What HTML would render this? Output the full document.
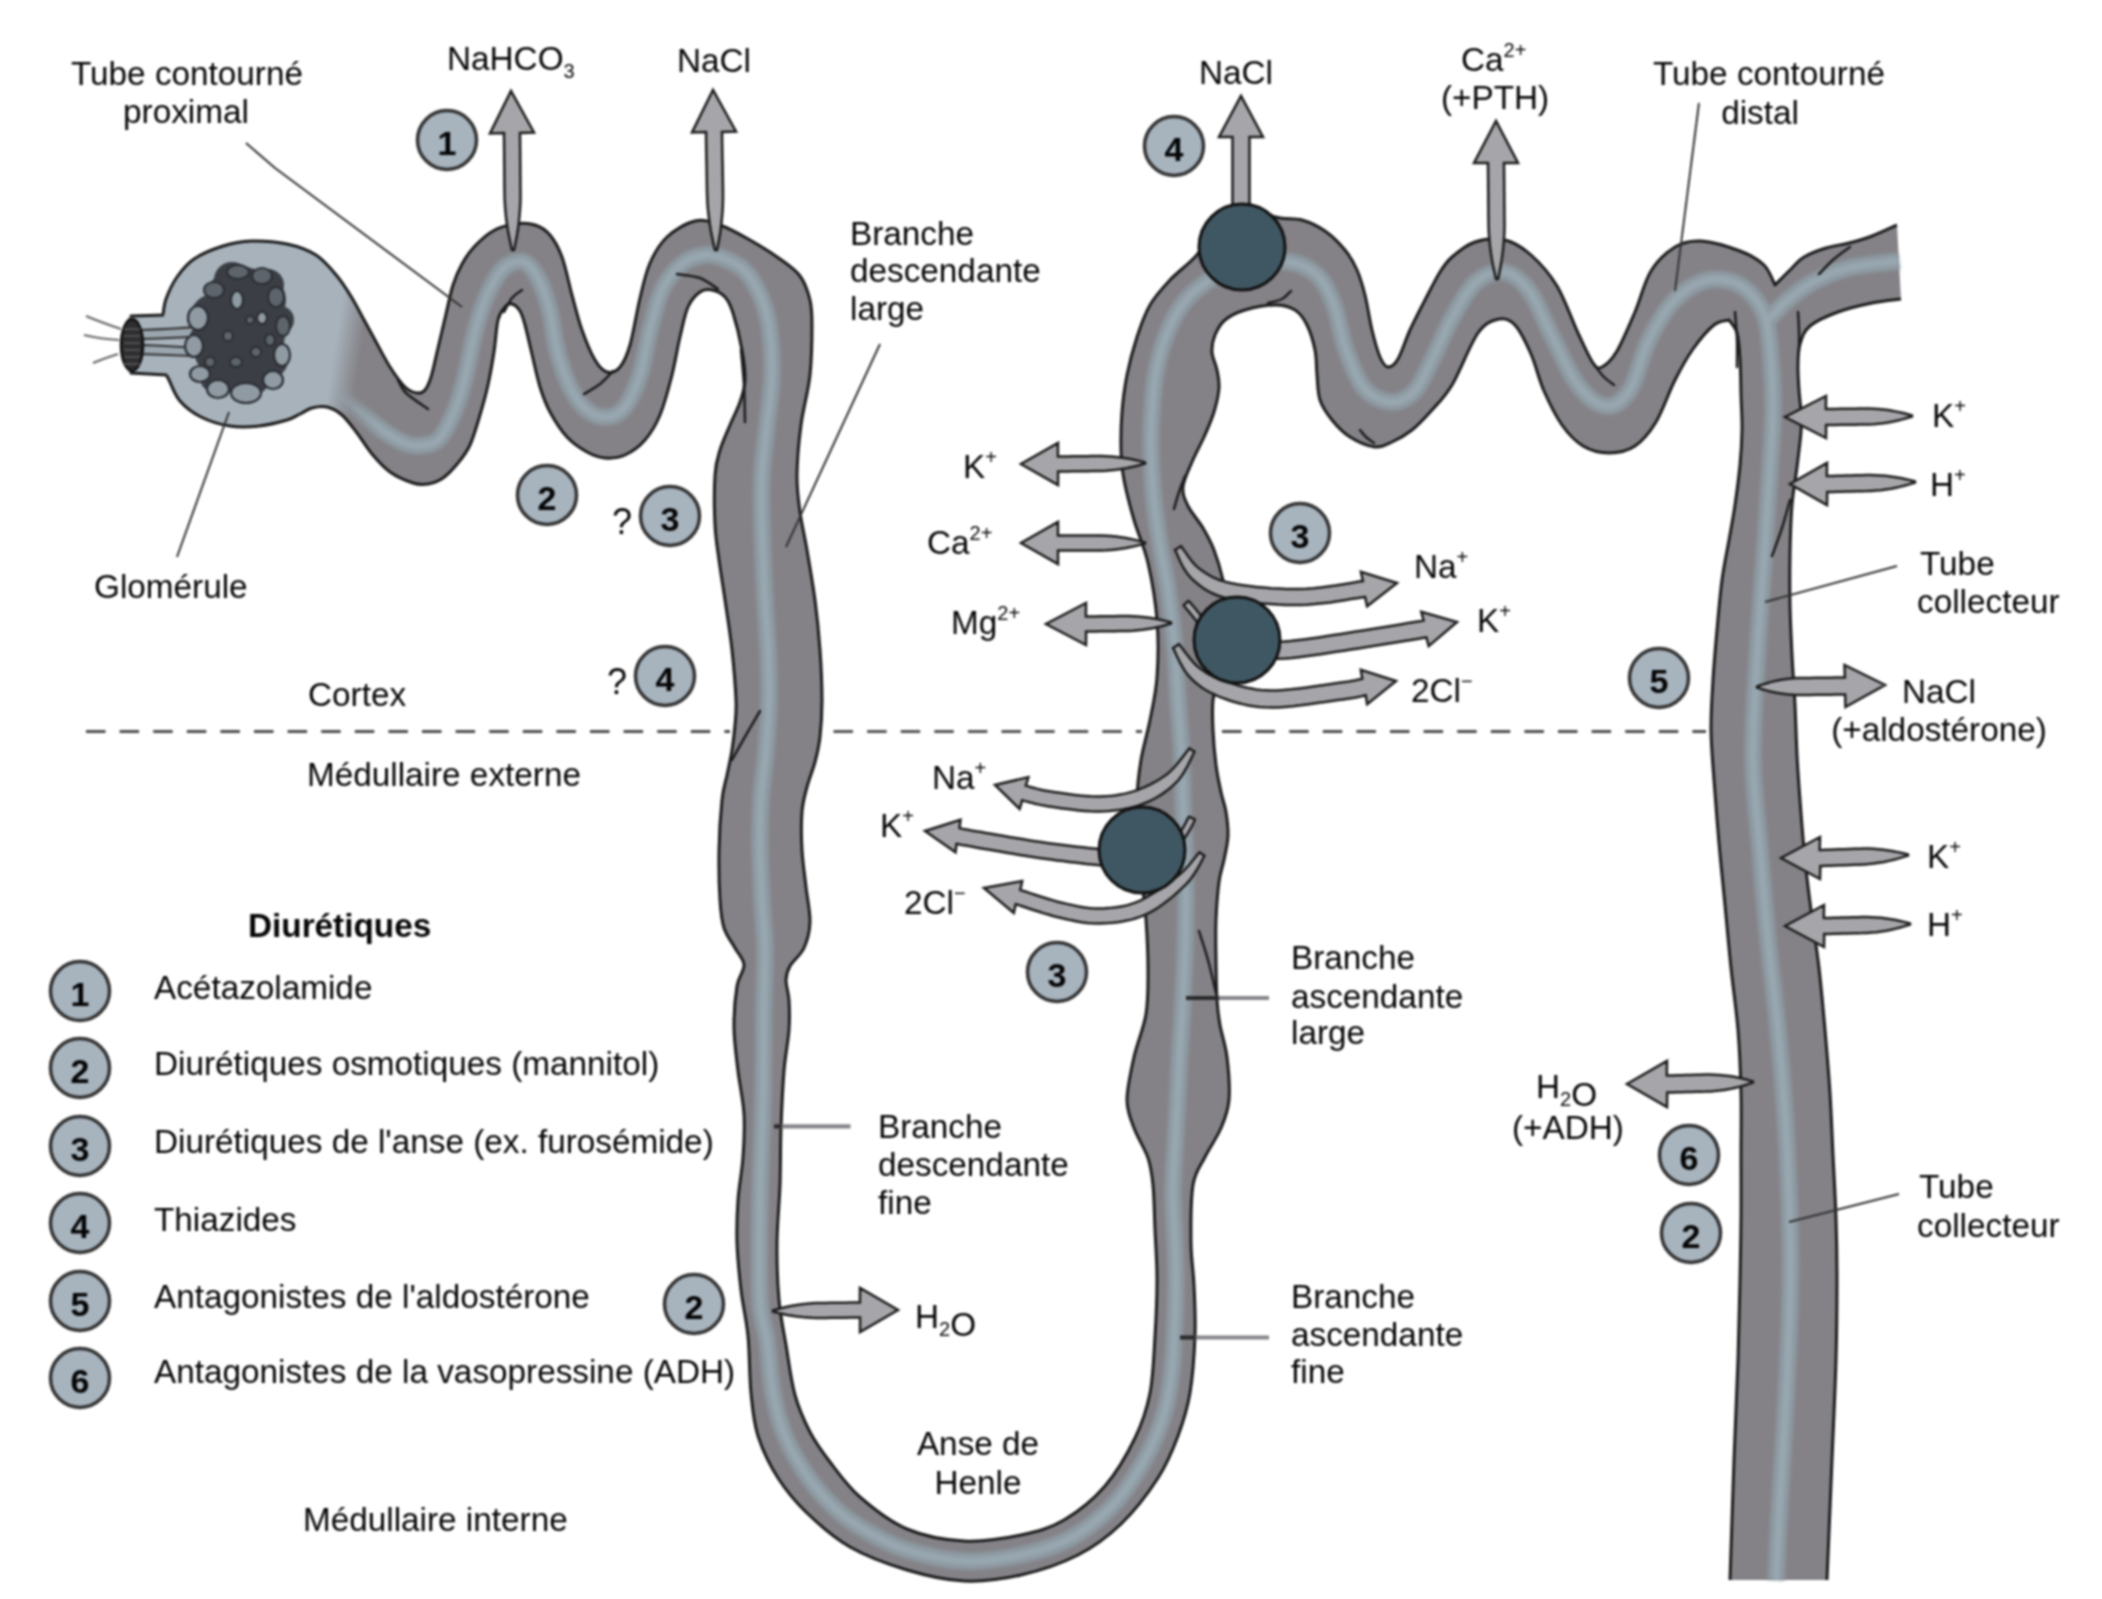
<!DOCTYPE html>
<html><head><meta charset="utf-8"><title>Nephron diuretics</title>
<style>
html,body{margin:0;padding:0;background:#fff;}
body{width:2102px;height:1599px;overflow:hidden;}
svg{display:block;filter:blur(0.8px);font-family:"Liberation Sans",sans-serif;fill:#050505;}
svg text{fill:#050505;}
</style></head><body>
<svg width="2102" height="1599" viewBox="0 0 2102 1599">
<defs><linearGradient id="tg" gradientUnits="userSpaceOnUse" x1="336" y1="340" x2="362" y2="344"><stop offset="0" stop-color="#a7b2bb"/><stop offset="1" stop-color="#848287"/></linearGradient><linearGradient id="bg" gradientUnits="userSpaceOnUse" x1="330" y1="0" x2="380" y2="0"><stop offset="0" stop-color="#8d9aa2" stop-opacity="0"/><stop offset="1" stop-color="#8d9aa2"/></linearGradient><linearGradient id="bg2" gradientUnits="userSpaceOnUse" x1="330" y1="0" x2="380" y2="0"><stop offset="0" stop-color="#98a7b0" stop-opacity="0"/><stop offset="1" stop-color="#98a7b0"/></linearGradient><filter id="soft" x="-5%" y="-5%" width="110%" height="110%"><feGaussianBlur stdDeviation="1.6"/></filter></defs>
<rect width="2102" height="1599" fill="#ffffff"/>
<path d="M86 731.5 H730" stroke="#4d4d4d" stroke-width="3.2" stroke-dasharray="19.5 14.1" fill="none"/>
<path d="M833.5 731.5 H1142" stroke="#555" stroke-width="3.2" stroke-dasharray="19.5 14.1" fill="none"/>
<path d="M1222 731.5 H1706" stroke="#4d4d4d" stroke-width="3.2" stroke-dasharray="19.5 14.1" fill="none"/>
<path d="M163 315 C163.5 312.3 163.7 305.3 166 299 C168.3 292.7 172.3 283.7 177 277 C181.7 270.3 186.3 264.2 194 259 C201.7 253.8 213.5 249 223 246 C232.5 243 240.3 241.3 251 241 C261.7 240.7 276.2 241.7 287 244 C297.8 246.3 307.7 249.7 316 255 C324.3 260.3 331 268.8 337 276 C343 283.2 347.7 291 352 298 C356.3 305 359.2 311 363 318 C366.8 325 370.5 331.8 375 340 C379.5 348.2 385 359.2 390 367 C395 374.8 400.5 382.7 405 387 C409.5 391.3 413.7 392.5 417 393 C420.3 393.5 422.7 392.7 425 390 C427.3 387.3 428.8 384 431 377 C433.2 370 435.5 358.5 438 348 C440.5 337.5 443.5 324.5 446 314 C448.5 303.5 450.3 293.3 453 285 C455.7 276.7 458.5 270.3 462 264 C465.5 257.7 468.8 252.5 474 247 C479.2 241.5 486.2 234.8 493 231 C499.8 227.2 508 225 515 224 C522 223 529.2 223.2 535 225 C540.8 226.8 545.5 229.7 550 235 C554.5 240.3 558.3 247 562 257 C565.7 267 568.7 282.8 572 295 C575.3 307.2 578.2 319.2 582 330 C585.8 340.8 590.8 353 595 360 C599.2 367 602.8 370.8 607 372 C611.2 373.2 616.2 371.5 620 367 C623.8 362.5 626.7 356.5 630 345 C633.3 333.5 636.7 311.7 640 298 C643.3 284.3 645.5 273.2 650 263 C654.5 252.8 659.5 244 667 237 C674.5 230 686.2 223 695 221 C703.8 219 710.8 221.8 720 225 C729.2 228.2 740 234.3 750 240 C760 245.7 771.7 253 780 259 C788.3 265 795 269.2 800 276 C805 282.8 808 291.8 810 300 C812 308.2 812 312.5 812 325 C812 337.5 811.8 358.3 810 375 C808.2 391.7 803.2 408.3 801 425 C798.8 441.7 797.2 460.5 797 475 C796.8 489.5 798.3 499.5 800 512 C801.7 524.5 804.5 535.3 807 550 C809.5 564.7 812.8 583.3 815 600 C817.2 616.7 818.8 633.3 820 650 C821.2 666.7 822 685.5 822 700 C822 714.5 821.2 726.7 820 737 C818.8 747.3 817.2 753.7 815 762 C812.8 770.3 809.2 778.7 807 787 C804.8 795.3 802.8 801.5 802 812 C801.2 822.5 801.3 837.5 802 850 C802.7 862.5 804.7 875 806 887 C807.3 899 810.3 911.8 810 922 C809.7 932.2 807.3 940.7 804 948 C800.7 955.3 793 960.7 790 966 C787 971.3 786.2 974.3 786 980 C785.8 985.7 788.5 991.7 789 1000 C789.5 1008.3 789.8 1018.2 789 1030 C788.2 1041.8 785.3 1054.7 784 1071 C782.7 1087.3 781.7 1109 781 1128 C780.3 1147 780.7 1165.8 780 1185 C779.3 1204.2 777.2 1223.8 777 1243 C776.8 1262.2 777.5 1283 779 1300 C780.5 1317 783.3 1329.2 786 1345 C788.7 1360.8 791 1380.5 795 1395 C799 1409.5 804.2 1420.8 810 1432 C815.8 1443.2 821.7 1451.2 830 1462 C838.3 1472.8 847.2 1485.8 860 1497 C872.8 1508.2 889.7 1521.7 907 1529 C924.3 1536.3 945 1540 964 1541 C983 1542 1004.3 1538.5 1021 1535 C1037.7 1531.5 1050 1528.2 1064 1520 C1078 1511.8 1093.2 1499.7 1105 1486 C1116.8 1472.3 1127.5 1453.5 1135 1438 C1142.5 1422.5 1146.7 1410 1150 1393 C1153.3 1376 1153.8 1355 1155 1336 C1156.2 1317 1157 1296.7 1157 1279 C1157 1261.3 1155.7 1245.7 1155 1230 C1154.3 1214.3 1154.2 1197 1153 1185 C1151.8 1173 1151.2 1167.5 1148 1158 C1144.8 1148.5 1137.5 1137.7 1134 1128 C1130.5 1118.3 1127 1111.8 1127 1100 C1127 1088.2 1130.8 1071.3 1134 1057 C1137.2 1042.7 1143.7 1028.5 1146 1014 C1148.3 999.5 1148 985.7 1148 970 C1148 954.3 1147.3 938.3 1146 920 C1144.7 901.7 1141.5 880 1140 860 C1138.5 840 1136.8 816.7 1137 800 C1137.2 783.3 1138.8 773.3 1141 760 C1143.2 746.7 1147.3 733.8 1150 720 C1152.7 706.2 1155.8 693.7 1157 677 C1158.2 660.3 1158.5 639 1157 620 C1155.5 601 1151.8 579.7 1148 563 C1144.2 546.3 1138 533.8 1134 520 C1130 506.2 1126.2 491.7 1124 480 C1121.8 468.3 1121.3 461.3 1121 450 C1120.7 438.7 1121 424.5 1122 412 C1123 399.5 1124.5 387.5 1127 375 C1129.5 362.5 1133.2 348.7 1137 337 C1140.8 325.3 1144.5 314.5 1150 305 C1155.5 295.5 1162.5 288 1170 280 C1177.5 272 1187.5 265 1195 257 C1202.5 249 1206.7 239.5 1215 232 C1223.3 224.5 1234.2 214.3 1245 212 C1255.8 209.7 1270.5 216.7 1280 218 C1289.5 219.3 1294.5 217.8 1302 220 C1309.5 222.2 1317.8 226 1325 231 C1332.2 236 1339.7 243.5 1345 250 C1350.3 256.5 1353.7 262.5 1357 270 C1360.3 277.5 1362.5 285 1365 295 C1367.5 305 1369.5 319.7 1372 330 C1374.5 340.3 1377.3 350.8 1380 357 C1382.7 363.2 1385 366.7 1388 367 C1391 367.3 1394.3 365.2 1398 359 C1401.7 352.8 1405.5 339.8 1410 330 C1414.5 320.2 1420 309.7 1425 300 C1430 290.3 1435.5 279.2 1440 272 C1444.5 264.8 1446.2 262 1452 257 C1457.8 252 1466.2 244.8 1475 242 C1483.8 239.2 1495.7 237.8 1505 240 C1514.3 242.2 1522.3 247.3 1531 255 C1539.7 262.7 1549.2 273 1557 286 C1564.8 299 1572 320.2 1578 333 C1584 345.8 1589 357.3 1593 363 C1597 368.7 1598 369 1602 367 C1606 365 1611.5 360.2 1617 351 C1622.5 341.8 1629.3 325.3 1635 312 C1640.7 298.7 1644.3 281.8 1651 271 C1657.7 260.2 1666.7 252 1675 247 C1683.3 242 1690.2 240.3 1701 241 C1711.8 241.7 1729.5 247 1740 251 C1750.5 255 1758.2 259.3 1764 265 C1769.8 270.7 1773.2 281.7 1775 285 L1775 285 C1777.8 282.2 1787.2 272.7 1792 268 C1796.8 263.3 1798.3 260.3 1804 257 C1809.7 253.7 1818.5 250.3 1826 248 C1833.5 245.7 1841.3 245 1849 243 C1856.7 241 1864 239 1872 236 C1880 233 1892.8 226.8 1897 225 L1897 225 C1897.7 237.2 1900.3 285.8 1901 298 L1901 299 C1896.2 299.7 1882.5 300.8 1872 303 C1861.5 305.2 1848.3 308.2 1838 312 C1827.7 315.8 1816.3 320.7 1810 326 C1803.7 331.3 1802 337.5 1800 344 C1798 350.5 1798.2 357.3 1798 365 C1797.8 372.7 1798.5 382.2 1799 390 C1799.5 397.8 1800.7 405 1801 412 C1801.3 419 1801.7 422.8 1801 432 C1800.3 441.2 1798.5 454.8 1797 467 C1795.5 479.2 1793.2 490.3 1792 505 C1790.8 519.7 1790.3 538.3 1790 555 C1789.7 571.7 1789.7 588.3 1790 605 C1790.3 621.7 1791.2 638.3 1792 655 C1792.8 671.7 1794.2 688.3 1795 705 C1795.8 721.7 1796.2 739.2 1797 755 C1797.8 770.8 1798.7 782.5 1800 800 C1801.3 817.5 1803.2 841.7 1805 860 C1806.8 878.3 1808.7 892 1811 910 C1813.3 928 1816.7 948 1819 968 C1821.3 988 1823.2 1009.2 1825 1030 C1826.8 1050.8 1828.7 1072.2 1830 1093 C1831.3 1113.8 1832 1134.2 1833 1155 C1834 1175.8 1835.3 1197.2 1836 1218 C1836.7 1238.8 1837 1256.3 1837 1280 C1837 1303.7 1836.8 1330 1836 1360 C1835.2 1390 1833.5 1423.3 1832 1460 C1830.5 1496.7 1827.8 1560 1827 1580 L1730 1580 C1730.7 1560 1732.7 1496.7 1734 1460 C1735.3 1423.3 1737 1390 1738 1360 C1739 1330 1739.5 1303.7 1740 1280 C1740.5 1256.3 1740.8 1238.8 1741 1218 C1741.2 1197.2 1741 1175.8 1741 1155 C1741 1134.2 1741.5 1113.8 1741 1093 C1740.5 1072.2 1739.7 1050.8 1738 1030 C1736.3 1009.2 1733.2 988.8 1731 968 C1728.8 947.2 1727 925.8 1725 905 C1723 884.2 1720.8 863.8 1719 843 C1717.2 822.2 1715.3 798.8 1714 780 C1712.7 761.2 1711.2 746.7 1711 730 C1710.8 713.3 1712 696.7 1713 680 C1714 663.3 1715.5 646.7 1717 630 C1718.5 613.3 1720 595 1722 580 C1724 565 1726.8 552.5 1729 540 C1731.2 527.5 1733.2 517.5 1735 505 C1736.8 492.5 1738.8 477.5 1740 465 C1741.2 452.5 1741.8 441.7 1742 430 C1742.2 418.3 1741.3 406.8 1741 395 C1740.7 383.2 1740.7 369.3 1740 359 C1739.3 348.7 1738.8 339.5 1737 333 C1735.2 326.5 1730.3 322.2 1729 320 L1729 320 C1726.5 320.8 1720 320.2 1714 325 C1708 329.8 1699.5 339.8 1693 349 C1686.5 358.2 1681.2 367.8 1675 380 C1668.8 392.2 1662.7 411 1656 422 C1649.3 433 1642.8 440.8 1635 446 C1627.2 451.2 1617.7 453 1609 453 C1600.3 453 1590.8 450.7 1583 446 C1575.2 441.3 1568.5 434.2 1562 425 C1555.5 415.8 1549.2 402.8 1544 391 C1538.8 379.2 1535.8 365 1531 354 C1526.2 343 1520.3 330.8 1515 325 C1509.7 319.2 1505.2 317.7 1499 319 C1492.8 320.3 1485.8 322 1478 333 C1470.2 344 1459.7 372.2 1452 385 C1444.3 397.8 1438.7 402.5 1432 410 C1425.3 417.5 1418.7 424.7 1412 430 C1405.3 435.3 1398.2 439.2 1392 442 C1385.8 444.8 1382 447.8 1375 447 C1368 446.2 1357.2 441.5 1350 437 C1342.8 432.5 1337 426.2 1332 420 C1327 413.8 1322.5 407.5 1320 400 C1317.5 392.5 1317.8 383.3 1317 375 C1316.2 366.7 1316.7 358.3 1315 350 C1313.3 341.7 1310.3 331.7 1307 325 C1303.7 318.3 1300.3 313.3 1295 310 C1289.7 306.7 1283.3 305 1275 305 C1266.7 305 1253.3 307.5 1245 310 C1236.7 312.5 1230 315.8 1225 320 C1220 324.2 1217.2 329.7 1215 335 C1212.8 340.3 1211.7 346.2 1212 352 C1212.3 357.8 1215.8 364 1217 370 C1218.2 376 1219.5 381 1219 388 C1218.5 395 1216.5 403.8 1214 412 C1211.5 420.2 1207.7 428.7 1204 437 C1200.3 445.3 1195.5 453.7 1192 462 C1188.5 470.3 1183.7 479.7 1183 487 C1182.3 494.3 1184.7 499.2 1188 506 C1191.3 512.8 1198.7 520.7 1203 528 C1207.3 535.3 1210.7 541.3 1214 550 C1217.3 558.7 1220.7 570 1223 580 C1225.3 590 1227.5 598.3 1228 610 C1228.5 621.7 1227.7 638.3 1226 650 C1224.3 661.7 1220.2 671.7 1218 680 C1215.8 688.3 1213.8 691.7 1213 700 C1212.2 708.3 1212.5 719.2 1213 730 C1213.5 740.8 1214.7 754.7 1216 765 C1217.3 775.3 1219.3 784.2 1221 792 C1222.7 799.8 1224.8 804.7 1226 812 C1227.2 819.3 1228.3 828 1228 836 C1227.7 844 1225.5 852.3 1224 860 C1222.5 867.7 1220.3 872 1219 882 C1217.7 892 1216.5 907 1216 920 C1215.5 933 1215.8 946.7 1216 960 C1216.2 973.3 1216.3 989.2 1217 1000 C1217.7 1010.8 1218.3 1015.5 1220 1025 C1221.7 1034.5 1225.5 1044.5 1227 1057 C1228.5 1069.5 1230 1088.2 1229 1100 C1228 1111.8 1225 1118.5 1221 1128 C1217 1137.5 1209.7 1147.5 1205 1157 C1200.3 1166.5 1195.3 1170.7 1193 1185 C1190.7 1199.3 1190.8 1226.3 1191 1243 C1191.2 1259.7 1193.3 1269.5 1194 1285 C1194.7 1300.5 1195.7 1318 1195 1336 C1194.3 1354 1192.8 1376.3 1190 1393 C1187.2 1409.7 1183.3 1421.8 1178 1436 C1172.7 1450.2 1167.5 1463.3 1158 1478 C1148.5 1492.7 1134.3 1511.2 1121 1524 C1107.7 1536.8 1094.7 1546.5 1078 1555 C1061.3 1563.5 1040 1570.7 1021 1575 C1002 1579.3 983 1581.8 964 1581 C945 1580.2 926 1575.7 907 1570 C888 1564.3 866.7 1556.5 850 1547 C833.3 1537.5 819 1524.5 807 1513 C795 1501.5 786.2 1490.8 778 1478 C769.8 1465.2 762.5 1450.2 758 1436 C753.5 1421.8 752.7 1409.7 751 1393 C749.3 1376.3 749.7 1353.2 748 1336 C746.3 1318.8 742.8 1305.5 741 1290 C739.2 1274.5 737.5 1258 737 1243 C736.5 1228 737 1214.3 738 1200 C739 1185.7 742 1171.3 743 1157 C744 1142.7 744.8 1128.3 744 1114 C743.2 1099.7 739.7 1085.3 738 1071 C736.3 1056.7 734.2 1042.2 734 1028 C733.8 1013.8 735.3 996.5 737 986 C738.7 975.5 744.3 971.3 744 965 C743.7 958.7 738.3 954.2 735 948 C731.7 941.8 726.5 936 724 928 C721.5 920 720.8 913 720 900 C719.2 887 718.7 866.7 719 850 C719.3 833.3 720.7 812.5 722 800 C723.3 787.5 725.3 783.3 727 775 C728.7 766.7 730.7 758.3 732 750 C733.3 741.7 734.3 733.3 735 725 C735.7 716.7 736.5 712.5 736 700 C735.5 687.5 733.8 666.7 732 650 C730.2 633.3 727.2 615 725 600 C722.8 585 720.7 572.5 719 560 C717.3 547.5 715.7 539.2 715 525 C714.3 510.8 714.2 487.5 715 475 C715.8 462.5 717.5 458.3 720 450 C722.5 441.7 726.7 433 730 425 C733.3 417 737.5 409.5 740 402 C742.5 394.5 744.7 388.7 745 380 C745.3 371.3 744 361.2 742 350 C740 338.8 735.8 321.8 733 313 C730.2 304.2 728.5 300.8 725 297 C721.5 293.2 716.2 290.8 712 290 C707.8 289.2 704 289.2 700 292 C696 294.8 691.3 299.5 688 307 C684.7 314.5 682.7 325.7 680 337 C677.3 348.3 675.3 362 672 375 C668.7 388 664.5 404.2 660 415 C655.5 425.8 650.8 433.3 645 440 C639.2 446.7 631.7 452 625 455 C618.3 458 611.3 458.5 605 458 C598.7 457.5 593.3 455.5 587 452 C580.7 448.5 573.2 443.7 567 437 C560.8 430.3 554.5 420.3 550 412 C545.5 403.7 543.2 397.3 540 387 C536.8 376.7 533.5 360.3 531 350 C528.5 339.7 526.8 331.5 525 325 C523.2 318.5 522.2 314.5 520 311 C517.8 307.5 514.5 304.7 512 304 C509.5 303.3 507.3 304.3 505 307 C502.7 309.7 499.8 312.5 498 320 C496.2 327.5 495.7 341.2 494 352 C492.3 362.8 490.3 374.5 488 385 C485.7 395.5 483 405 480 415 C477 425 473.7 437 470 445 C466.3 453 462.5 457.5 458 463 C453.5 468.5 448 474.5 443 478 C438 481.5 433 483.2 428 484 C423 484.8 419.3 485 413 483 C406.7 481 396.8 476.8 390 472 C383.2 467.2 377.5 460.5 372 454 C366.5 447.5 362 439.5 357 433 C352 426.5 347 419.3 342 415 C337 410.7 332 408.2 327 407 C322 405.8 316.5 406.8 312 408 C307.5 409.2 304.2 412 300 414 C295.8 416 293.8 418 287 420 C280.2 422 268.5 425 259 426 C249.5 427 239.7 427.5 230 426 C220.3 424.5 209.3 421.2 201 417 C192.7 412.8 185.3 407.2 180 401 C174.7 394.8 171.3 384.5 169 380 C166.7 375.5 166.5 375 166 374 Z" fill="url(#tg)" stroke="none"/>
<g filter="url(#soft)">
<path d="M337 393 C340.8 396.2 352 405.5 360 412 C368 418.5 377.2 426.7 385 432 C392.8 437.3 400.3 441.8 407 444 C413.7 446.2 419.5 446 425 445 C430.5 444 435 443.8 440 438 C445 432.2 450.8 420 455 410 C459.2 400 462 389.7 465 378 C468 366.3 470.2 351.7 473 340 C475.8 328.3 478.8 317.2 482 308 C485.2 298.8 488.7 291.3 492 285 C495.3 278.7 498.7 273.7 502 270 C505.3 266.3 508 264.2 512 263 C516 261.8 521.3 259.8 526 263 C530.7 266.2 536 273.8 540 282 C544 290.2 547.2 300.7 550 312 C552.8 323.3 553.7 337.5 557 350 C560.3 362.5 565 377 570 387 C575 397 580.8 405 587 410 C593.2 415 600.7 417.5 607 417 C613.3 416.5 619.5 414 625 407 C630.5 400 635.8 387.8 640 375 C644.2 362.2 646.3 344.2 650 330 C653.7 315.8 656.7 301 662 290 C667.3 279 674.8 269.8 682 264 C689.2 258.2 697.8 255.8 705 255 C712.2 254.2 718.3 256.3 725 259 C731.7 261.7 739.2 265 745 271 C750.8 277 756 286 760 295 C764 304 767 311.7 769 325 C771 338.3 772.3 358.3 772 375 C771.7 391.7 768.7 408.3 767 425 C765.3 441.7 762.8 458.3 762 475 C761.2 491.7 761.5 504.2 762 525 C762.5 545.8 764 579.2 765 600 C766 620.8 767.3 633.3 768 650 C768.7 666.7 769.3 683.3 769 700 C768.7 716.7 767.3 733.3 766 750 C764.7 766.7 762 783.3 761 800 C760 816.7 759.8 833.3 760 850 C760.2 866.7 761.2 883.3 762 900 C762.8 916.7 764.7 933.3 765 950 C765.3 966.7 764.3 975 764 1000 C763.7 1025 763.7 1066.7 763 1100 C762.3 1133.3 760.5 1166.7 760 1200 C759.5 1233.3 758.8 1276.7 760 1300 C761.2 1323.3 764.8 1324.5 767 1340 C769.2 1355.5 770 1377 773 1393 C776 1409 779.2 1422 785 1436 C790.8 1450 799.2 1464.5 808 1477 C816.8 1489.5 827.7 1501.7 838 1511 C848.3 1520.3 858.5 1526.5 870 1533 C881.5 1539.5 891.3 1545.3 907 1550 C922.7 1554.7 945 1560.2 964 1561 C983 1561.8 1003.2 1558.8 1021 1555 C1038.8 1551.2 1055.5 1546.5 1071 1538 C1086.5 1529.5 1101.5 1517.5 1114 1504 C1126.5 1490.5 1137.7 1472 1146 1457 C1154.3 1442 1159.7 1428.5 1164 1414 C1168.3 1399.5 1170.2 1385.7 1172 1370 C1173.8 1354.3 1174.3 1335.2 1175 1320 C1175.7 1304.8 1176 1292.3 1176 1279 C1176 1265.7 1175.5 1254.8 1175 1240 C1174.5 1225.2 1172.8 1208.3 1173 1190 C1173.2 1171.7 1174.8 1153.3 1176 1130 C1177.2 1106.7 1178.8 1071.7 1180 1050 C1181.2 1028.3 1182.2 1016.7 1183 1000 C1183.8 983.3 1184.5 966.7 1185 950 C1185.5 933.3 1186 916.7 1186 900 C1186 883.3 1185.5 866.7 1185 850 C1184.5 833.3 1183.5 815 1183 800 C1182.5 785 1182.8 776.7 1182 760 C1181.2 743.3 1179.3 720 1178 700 C1176.7 680 1175.7 658.3 1174 640 C1172.3 621.7 1170.3 605.8 1168 590 C1165.7 574.2 1162.3 560 1160 545 C1157.7 530 1155.5 515.8 1154 500 C1152.5 484.2 1151.3 464.7 1151 450 C1150.7 435.3 1151.2 425 1152 412 C1152.8 399 1153.7 384.7 1156 372 C1158.3 359.3 1161.7 347.2 1166 336 C1170.3 324.8 1175.5 313.8 1182 305 C1188.5 296.2 1195.3 289.8 1205 283 C1214.7 276.2 1225.8 267.5 1240 264 C1254.2 260.5 1277 260 1290 262 C1303 264 1310.7 268.8 1318 276 C1325.3 283.2 1329.3 292.7 1334 305 C1338.7 317.3 1341 336.2 1346 350 C1351 363.8 1356.7 379.3 1364 388 C1371.3 396.7 1381.7 401.3 1390 402 C1398.3 402.7 1407 399 1414 392 C1421 385 1425.7 372.3 1432 360 C1438.3 347.7 1444.7 331 1452 318 C1459.3 305 1467.2 289.7 1476 282 C1484.8 274.3 1496 270.3 1505 272 C1514 273.7 1522.2 281.3 1530 292 C1537.8 302.7 1544 320.5 1552 336 C1560 351.5 1569 373.3 1578 385 C1587 396.7 1597.3 405.2 1606 406 C1614.7 406.8 1623 400.7 1630 390 C1637 379.3 1641 356.5 1648 342 C1655 327.5 1663.2 313 1672 303 C1680.8 293 1691.3 285.7 1701 282 C1710.7 278.3 1721.5 278.8 1730 281 C1738.5 283.2 1746 288.5 1752 295 C1758 301.5 1762.8 309.3 1766 320 C1769.2 330.7 1769.8 343.7 1771 359 C1772.2 374.3 1773.2 393.5 1773 412 C1772.8 430.5 1771.5 445.3 1770 470 C1768.5 494.7 1766.2 528.3 1764 560 C1761.8 591.7 1758.8 626.7 1757 660 C1755.2 693.3 1752.5 728.3 1753 760 C1753.5 791.7 1757.5 820 1760 850 C1762.5 880 1765 910 1768 940 C1771 970 1775 998.3 1778 1030 C1781 1061.7 1784 1096.7 1786 1130 C1788 1163.3 1789.3 1201.7 1790 1230 C1790.7 1258.3 1790.7 1271.7 1790 1300 C1789.3 1328.3 1787.7 1366.7 1786 1400 C1784.3 1433.3 1781.7 1470 1780 1500 C1778.3 1530 1776.7 1566.7 1776 1580" fill="none" stroke="url(#bg)" stroke-width="17" stroke-linecap="butt" stroke-linejoin="round"/>
<path d="M1766 322 C1770 318 1781.8 304.8 1790 298 C1798.2 291.2 1805.3 286 1815 281 C1824.7 276 1834 271.3 1848 268 C1862 264.7 1890.5 262.2 1899 261" fill="none" stroke="#8d9aa2" stroke-width="17" stroke-linecap="butt"/>
<path d="M337 393 C340.8 396.2 352 405.5 360 412 C368 418.5 377.2 426.7 385 432 C392.8 437.3 400.3 441.8 407 444 C413.7 446.2 419.5 446 425 445 C430.5 444 435 443.8 440 438 C445 432.2 450.8 420 455 410 C459.2 400 462 389.7 465 378 C468 366.3 470.2 351.7 473 340 C475.8 328.3 478.8 317.2 482 308 C485.2 298.8 488.7 291.3 492 285 C495.3 278.7 498.7 273.7 502 270 C505.3 266.3 508 264.2 512 263 C516 261.8 521.3 259.8 526 263 C530.7 266.2 536 273.8 540 282 C544 290.2 547.2 300.7 550 312 C552.8 323.3 553.7 337.5 557 350 C560.3 362.5 565 377 570 387 C575 397 580.8 405 587 410 C593.2 415 600.7 417.5 607 417 C613.3 416.5 619.5 414 625 407 C630.5 400 635.8 387.8 640 375 C644.2 362.2 646.3 344.2 650 330 C653.7 315.8 656.7 301 662 290 C667.3 279 674.8 269.8 682 264 C689.2 258.2 697.8 255.8 705 255 C712.2 254.2 718.3 256.3 725 259 C731.7 261.7 739.2 265 745 271 C750.8 277 756 286 760 295 C764 304 767 311.7 769 325 C771 338.3 772.3 358.3 772 375 C771.7 391.7 768.7 408.3 767 425 C765.3 441.7 762.8 458.3 762 475 C761.2 491.7 761.5 504.2 762 525 C762.5 545.8 764 579.2 765 600 C766 620.8 767.3 633.3 768 650 C768.7 666.7 769.3 683.3 769 700 C768.7 716.7 767.3 733.3 766 750 C764.7 766.7 762 783.3 761 800 C760 816.7 759.8 833.3 760 850 C760.2 866.7 761.2 883.3 762 900 C762.8 916.7 764.7 933.3 765 950 C765.3 966.7 764.3 975 764 1000 C763.7 1025 763.7 1066.7 763 1100 C762.3 1133.3 760.5 1166.7 760 1200 C759.5 1233.3 758.8 1276.7 760 1300 C761.2 1323.3 764.8 1324.5 767 1340 C769.2 1355.5 770 1377 773 1393 C776 1409 779.2 1422 785 1436 C790.8 1450 799.2 1464.5 808 1477 C816.8 1489.5 827.7 1501.7 838 1511 C848.3 1520.3 858.5 1526.5 870 1533 C881.5 1539.5 891.3 1545.3 907 1550 C922.7 1554.7 945 1560.2 964 1561 C983 1561.8 1003.2 1558.8 1021 1555 C1038.8 1551.2 1055.5 1546.5 1071 1538 C1086.5 1529.5 1101.5 1517.5 1114 1504 C1126.5 1490.5 1137.7 1472 1146 1457 C1154.3 1442 1159.7 1428.5 1164 1414 C1168.3 1399.5 1170.2 1385.7 1172 1370 C1173.8 1354.3 1174.3 1335.2 1175 1320 C1175.7 1304.8 1176 1292.3 1176 1279 C1176 1265.7 1175.5 1254.8 1175 1240 C1174.5 1225.2 1172.8 1208.3 1173 1190 C1173.2 1171.7 1174.8 1153.3 1176 1130 C1177.2 1106.7 1178.8 1071.7 1180 1050 C1181.2 1028.3 1182.2 1016.7 1183 1000 C1183.8 983.3 1184.5 966.7 1185 950 C1185.5 933.3 1186 916.7 1186 900 C1186 883.3 1185.5 866.7 1185 850 C1184.5 833.3 1183.5 815 1183 800 C1182.5 785 1182.8 776.7 1182 760 C1181.2 743.3 1179.3 720 1178 700 C1176.7 680 1175.7 658.3 1174 640 C1172.3 621.7 1170.3 605.8 1168 590 C1165.7 574.2 1162.3 560 1160 545 C1157.7 530 1155.5 515.8 1154 500 C1152.5 484.2 1151.3 464.7 1151 450 C1150.7 435.3 1151.2 425 1152 412 C1152.8 399 1153.7 384.7 1156 372 C1158.3 359.3 1161.7 347.2 1166 336 C1170.3 324.8 1175.5 313.8 1182 305 C1188.5 296.2 1195.3 289.8 1205 283 C1214.7 276.2 1225.8 267.5 1240 264 C1254.2 260.5 1277 260 1290 262 C1303 264 1310.7 268.8 1318 276 C1325.3 283.2 1329.3 292.7 1334 305 C1338.7 317.3 1341 336.2 1346 350 C1351 363.8 1356.7 379.3 1364 388 C1371.3 396.7 1381.7 401.3 1390 402 C1398.3 402.7 1407 399 1414 392 C1421 385 1425.7 372.3 1432 360 C1438.3 347.7 1444.7 331 1452 318 C1459.3 305 1467.2 289.7 1476 282 C1484.8 274.3 1496 270.3 1505 272 C1514 273.7 1522.2 281.3 1530 292 C1537.8 302.7 1544 320.5 1552 336 C1560 351.5 1569 373.3 1578 385 C1587 396.7 1597.3 405.2 1606 406 C1614.7 406.8 1623 400.7 1630 390 C1637 379.3 1641 356.5 1648 342 C1655 327.5 1663.2 313 1672 303 C1680.8 293 1691.3 285.7 1701 282 C1710.7 278.3 1721.5 278.8 1730 281 C1738.5 283.2 1746 288.5 1752 295 C1758 301.5 1762.8 309.3 1766 320 C1769.2 330.7 1769.8 343.7 1771 359 C1772.2 374.3 1773.2 393.5 1773 412 C1772.8 430.5 1771.5 445.3 1770 470 C1768.5 494.7 1766.2 528.3 1764 560 C1761.8 591.7 1758.8 626.7 1757 660 C1755.2 693.3 1752.5 728.3 1753 760 C1753.5 791.7 1757.5 820 1760 850 C1762.5 880 1765 910 1768 940 C1771 970 1775 998.3 1778 1030 C1781 1061.7 1784 1096.7 1786 1130 C1788 1163.3 1789.3 1201.7 1790 1230 C1790.7 1258.3 1790.7 1271.7 1790 1300 C1789.3 1328.3 1787.7 1366.7 1786 1400 C1784.3 1433.3 1781.7 1470 1780 1500 C1778.3 1530 1776.7 1566.7 1776 1580" fill="none" stroke="url(#bg2)" stroke-width="7" stroke-linecap="butt" stroke-linejoin="round"/>
<path d="M1766 322 C1770 318 1781.8 304.8 1790 298 C1798.2 291.2 1805.3 286 1815 281 C1824.7 276 1834 271.3 1848 268 C1862 264.7 1890.5 262.2 1899 261" fill="none" stroke="#98a7b0" stroke-width="7" stroke-linecap="butt"/>
</g>
<path d="M163 315 C163.5 312.3 163.7 305.3 166 299 C168.3 292.7 172.3 283.7 177 277 C181.7 270.3 186.3 264.2 194 259 C201.7 253.8 213.5 249 223 246 C232.5 243 240.3 241.3 251 241 C261.7 240.7 276.2 241.7 287 244 C297.8 246.3 307.7 249.7 316 255 C324.3 260.3 331 268.8 337 276 C343 283.2 347.7 291 352 298 C356.3 305 359.2 311 363 318 C366.8 325 370.5 331.8 375 340 C379.5 348.2 385 359.2 390 367 C395 374.8 400.5 382.7 405 387 C409.5 391.3 413.7 392.5 417 393 C420.3 393.5 422.7 392.7 425 390 C427.3 387.3 428.8 384 431 377 C433.2 370 435.5 358.5 438 348 C440.5 337.5 443.5 324.5 446 314 C448.5 303.5 450.3 293.3 453 285 C455.7 276.7 458.5 270.3 462 264 C465.5 257.7 468.8 252.5 474 247 C479.2 241.5 486.2 234.8 493 231 C499.8 227.2 508 225 515 224 C522 223 529.2 223.2 535 225 C540.8 226.8 545.5 229.7 550 235 C554.5 240.3 558.3 247 562 257 C565.7 267 568.7 282.8 572 295 C575.3 307.2 578.2 319.2 582 330 C585.8 340.8 590.8 353 595 360 C599.2 367 602.8 370.8 607 372 C611.2 373.2 616.2 371.5 620 367 C623.8 362.5 626.7 356.5 630 345 C633.3 333.5 636.7 311.7 640 298 C643.3 284.3 645.5 273.2 650 263 C654.5 252.8 659.5 244 667 237 C674.5 230 686.2 223 695 221 C703.8 219 710.8 221.8 720 225 C729.2 228.2 740 234.3 750 240 C760 245.7 771.7 253 780 259 C788.3 265 795 269.2 800 276 C805 282.8 808 291.8 810 300 C812 308.2 812 312.5 812 325 C812 337.5 811.8 358.3 810 375 C808.2 391.7 803.2 408.3 801 425 C798.8 441.7 797.2 460.5 797 475 C796.8 489.5 798.3 499.5 800 512 C801.7 524.5 804.5 535.3 807 550 C809.5 564.7 812.8 583.3 815 600 C817.2 616.7 818.8 633.3 820 650 C821.2 666.7 822 685.5 822 700 C822 714.5 821.2 726.7 820 737 C818.8 747.3 817.2 753.7 815 762 C812.8 770.3 809.2 778.7 807 787 C804.8 795.3 802.8 801.5 802 812 C801.2 822.5 801.3 837.5 802 850 C802.7 862.5 804.7 875 806 887 C807.3 899 810.3 911.8 810 922 C809.7 932.2 807.3 940.7 804 948 C800.7 955.3 793 960.7 790 966 C787 971.3 786.2 974.3 786 980 C785.8 985.7 788.5 991.7 789 1000 C789.5 1008.3 789.8 1018.2 789 1030 C788.2 1041.8 785.3 1054.7 784 1071 C782.7 1087.3 781.7 1109 781 1128 C780.3 1147 780.7 1165.8 780 1185 C779.3 1204.2 777.2 1223.8 777 1243 C776.8 1262.2 777.5 1283 779 1300 C780.5 1317 783.3 1329.2 786 1345 C788.7 1360.8 791 1380.5 795 1395 C799 1409.5 804.2 1420.8 810 1432 C815.8 1443.2 821.7 1451.2 830 1462 C838.3 1472.8 847.2 1485.8 860 1497 C872.8 1508.2 889.7 1521.7 907 1529 C924.3 1536.3 945 1540 964 1541 C983 1542 1004.3 1538.5 1021 1535 C1037.7 1531.5 1050 1528.2 1064 1520 C1078 1511.8 1093.2 1499.7 1105 1486 C1116.8 1472.3 1127.5 1453.5 1135 1438 C1142.5 1422.5 1146.7 1410 1150 1393 C1153.3 1376 1153.8 1355 1155 1336 C1156.2 1317 1157 1296.7 1157 1279 C1157 1261.3 1155.7 1245.7 1155 1230 C1154.3 1214.3 1154.2 1197 1153 1185 C1151.8 1173 1151.2 1167.5 1148 1158 C1144.8 1148.5 1137.5 1137.7 1134 1128 C1130.5 1118.3 1127 1111.8 1127 1100 C1127 1088.2 1130.8 1071.3 1134 1057 C1137.2 1042.7 1143.7 1028.5 1146 1014 C1148.3 999.5 1148 985.7 1148 970 C1148 954.3 1147.3 938.3 1146 920 C1144.7 901.7 1141.5 880 1140 860 C1138.5 840 1136.8 816.7 1137 800 C1137.2 783.3 1138.8 773.3 1141 760 C1143.2 746.7 1147.3 733.8 1150 720 C1152.7 706.2 1155.8 693.7 1157 677 C1158.2 660.3 1158.5 639 1157 620 C1155.5 601 1151.8 579.7 1148 563 C1144.2 546.3 1138 533.8 1134 520 C1130 506.2 1126.2 491.7 1124 480 C1121.8 468.3 1121.3 461.3 1121 450 C1120.7 438.7 1121 424.5 1122 412 C1123 399.5 1124.5 387.5 1127 375 C1129.5 362.5 1133.2 348.7 1137 337 C1140.8 325.3 1144.5 314.5 1150 305 C1155.5 295.5 1162.5 288 1170 280 C1177.5 272 1187.5 265 1195 257 C1202.5 249 1206.7 239.5 1215 232 C1223.3 224.5 1234.2 214.3 1245 212 C1255.8 209.7 1270.5 216.7 1280 218 C1289.5 219.3 1294.5 217.8 1302 220 C1309.5 222.2 1317.8 226 1325 231 C1332.2 236 1339.7 243.5 1345 250 C1350.3 256.5 1353.7 262.5 1357 270 C1360.3 277.5 1362.5 285 1365 295 C1367.5 305 1369.5 319.7 1372 330 C1374.5 340.3 1377.3 350.8 1380 357 C1382.7 363.2 1385 366.7 1388 367 C1391 367.3 1394.3 365.2 1398 359 C1401.7 352.8 1405.5 339.8 1410 330 C1414.5 320.2 1420 309.7 1425 300 C1430 290.3 1435.5 279.2 1440 272 C1444.5 264.8 1446.2 262 1452 257 C1457.8 252 1466.2 244.8 1475 242 C1483.8 239.2 1495.7 237.8 1505 240 C1514.3 242.2 1522.3 247.3 1531 255 C1539.7 262.7 1549.2 273 1557 286 C1564.8 299 1572 320.2 1578 333 C1584 345.8 1589 357.3 1593 363 C1597 368.7 1598 369 1602 367 C1606 365 1611.5 360.2 1617 351 C1622.5 341.8 1629.3 325.3 1635 312 C1640.7 298.7 1644.3 281.8 1651 271 C1657.7 260.2 1666.7 252 1675 247 C1683.3 242 1690.2 240.3 1701 241 C1711.8 241.7 1729.5 247 1740 251 C1750.5 255 1758.2 259.3 1764 265 C1769.8 270.7 1773.2 281.7 1775 285 L1775 285 C1777.8 282.2 1787.2 272.7 1792 268 C1796.8 263.3 1798.3 260.3 1804 257 C1809.7 253.7 1818.5 250.3 1826 248 C1833.5 245.7 1841.3 245 1849 243 C1856.7 241 1864 239 1872 236 C1880 233 1892.8 226.8 1897 225 M1901 299 C1896.2 299.7 1882.5 300.8 1872 303 C1861.5 305.2 1848.3 308.2 1838 312 C1827.7 315.8 1816.3 320.7 1810 326 C1803.7 331.3 1802 337.5 1800 344 C1798 350.5 1798.2 357.3 1798 365 C1797.8 372.7 1798.5 382.2 1799 390 C1799.5 397.8 1800.7 405 1801 412 C1801.3 419 1801.7 422.8 1801 432 C1800.3 441.2 1798.5 454.8 1797 467 C1795.5 479.2 1793.2 490.3 1792 505 C1790.8 519.7 1790.3 538.3 1790 555 C1789.7 571.7 1789.7 588.3 1790 605 C1790.3 621.7 1791.2 638.3 1792 655 C1792.8 671.7 1794.2 688.3 1795 705 C1795.8 721.7 1796.2 739.2 1797 755 C1797.8 770.8 1798.7 782.5 1800 800 C1801.3 817.5 1803.2 841.7 1805 860 C1806.8 878.3 1808.7 892 1811 910 C1813.3 928 1816.7 948 1819 968 C1821.3 988 1823.2 1009.2 1825 1030 C1826.8 1050.8 1828.7 1072.2 1830 1093 C1831.3 1113.8 1832 1134.2 1833 1155 C1834 1175.8 1835.3 1197.2 1836 1218 C1836.7 1238.8 1837 1256.3 1837 1280 C1837 1303.7 1836.8 1330 1836 1360 C1835.2 1390 1833.5 1423.3 1832 1460 C1830.5 1496.7 1827.8 1560 1827 1580 M1730 1580 C1730.7 1560 1732.7 1496.7 1734 1460 C1735.3 1423.3 1737 1390 1738 1360 C1739 1330 1739.5 1303.7 1740 1280 C1740.5 1256.3 1740.8 1238.8 1741 1218 C1741.2 1197.2 1741 1175.8 1741 1155 C1741 1134.2 1741.5 1113.8 1741 1093 C1740.5 1072.2 1739.7 1050.8 1738 1030 C1736.3 1009.2 1733.2 988.8 1731 968 C1728.8 947.2 1727 925.8 1725 905 C1723 884.2 1720.8 863.8 1719 843 C1717.2 822.2 1715.3 798.8 1714 780 C1712.7 761.2 1711.2 746.7 1711 730 C1710.8 713.3 1712 696.7 1713 680 C1714 663.3 1715.5 646.7 1717 630 C1718.5 613.3 1720 595 1722 580 C1724 565 1726.8 552.5 1729 540 C1731.2 527.5 1733.2 517.5 1735 505 C1736.8 492.5 1738.8 477.5 1740 465 C1741.2 452.5 1741.8 441.7 1742 430 C1742.2 418.3 1741.3 406.8 1741 395 C1740.7 383.2 1740.7 369.3 1740 359 C1739.3 348.7 1738.8 339.5 1737 333 C1735.2 326.5 1730.3 322.2 1729 320 L1729 320 C1726.5 320.8 1720 320.2 1714 325 C1708 329.8 1699.5 339.8 1693 349 C1686.5 358.2 1681.2 367.8 1675 380 C1668.8 392.2 1662.7 411 1656 422 C1649.3 433 1642.8 440.8 1635 446 C1627.2 451.2 1617.7 453 1609 453 C1600.3 453 1590.8 450.7 1583 446 C1575.2 441.3 1568.5 434.2 1562 425 C1555.5 415.8 1549.2 402.8 1544 391 C1538.8 379.2 1535.8 365 1531 354 C1526.2 343 1520.3 330.8 1515 325 C1509.7 319.2 1505.2 317.7 1499 319 C1492.8 320.3 1485.8 322 1478 333 C1470.2 344 1459.7 372.2 1452 385 C1444.3 397.8 1438.7 402.5 1432 410 C1425.3 417.5 1418.7 424.7 1412 430 C1405.3 435.3 1398.2 439.2 1392 442 C1385.8 444.8 1382 447.8 1375 447 C1368 446.2 1357.2 441.5 1350 437 C1342.8 432.5 1337 426.2 1332 420 C1327 413.8 1322.5 407.5 1320 400 C1317.5 392.5 1317.8 383.3 1317 375 C1316.2 366.7 1316.7 358.3 1315 350 C1313.3 341.7 1310.3 331.7 1307 325 C1303.7 318.3 1300.3 313.3 1295 310 C1289.7 306.7 1283.3 305 1275 305 C1266.7 305 1253.3 307.5 1245 310 C1236.7 312.5 1230 315.8 1225 320 C1220 324.2 1217.2 329.7 1215 335 C1212.8 340.3 1211.7 346.2 1212 352 C1212.3 357.8 1215.8 364 1217 370 C1218.2 376 1219.5 381 1219 388 C1218.5 395 1216.5 403.8 1214 412 C1211.5 420.2 1207.7 428.7 1204 437 C1200.3 445.3 1195.5 453.7 1192 462 C1188.5 470.3 1183.7 479.7 1183 487 C1182.3 494.3 1184.7 499.2 1188 506 C1191.3 512.8 1198.7 520.7 1203 528 C1207.3 535.3 1210.7 541.3 1214 550 C1217.3 558.7 1220.7 570 1223 580 C1225.3 590 1227.5 598.3 1228 610 C1228.5 621.7 1227.7 638.3 1226 650 C1224.3 661.7 1220.2 671.7 1218 680 C1215.8 688.3 1213.8 691.7 1213 700 C1212.2 708.3 1212.5 719.2 1213 730 C1213.5 740.8 1214.7 754.7 1216 765 C1217.3 775.3 1219.3 784.2 1221 792 C1222.7 799.8 1224.8 804.7 1226 812 C1227.2 819.3 1228.3 828 1228 836 C1227.7 844 1225.5 852.3 1224 860 C1222.5 867.7 1220.3 872 1219 882 C1217.7 892 1216.5 907 1216 920 C1215.5 933 1215.8 946.7 1216 960 C1216.2 973.3 1216.3 989.2 1217 1000 C1217.7 1010.8 1218.3 1015.5 1220 1025 C1221.7 1034.5 1225.5 1044.5 1227 1057 C1228.5 1069.5 1230 1088.2 1229 1100 C1228 1111.8 1225 1118.5 1221 1128 C1217 1137.5 1209.7 1147.5 1205 1157 C1200.3 1166.5 1195.3 1170.7 1193 1185 C1190.7 1199.3 1190.8 1226.3 1191 1243 C1191.2 1259.7 1193.3 1269.5 1194 1285 C1194.7 1300.5 1195.7 1318 1195 1336 C1194.3 1354 1192.8 1376.3 1190 1393 C1187.2 1409.7 1183.3 1421.8 1178 1436 C1172.7 1450.2 1167.5 1463.3 1158 1478 C1148.5 1492.7 1134.3 1511.2 1121 1524 C1107.7 1536.8 1094.7 1546.5 1078 1555 C1061.3 1563.5 1040 1570.7 1021 1575 C1002 1579.3 983 1581.8 964 1581 C945 1580.2 926 1575.7 907 1570 C888 1564.3 866.7 1556.5 850 1547 C833.3 1537.5 819 1524.5 807 1513 C795 1501.5 786.2 1490.8 778 1478 C769.8 1465.2 762.5 1450.2 758 1436 C753.5 1421.8 752.7 1409.7 751 1393 C749.3 1376.3 749.7 1353.2 748 1336 C746.3 1318.8 742.8 1305.5 741 1290 C739.2 1274.5 737.5 1258 737 1243 C736.5 1228 737 1214.3 738 1200 C739 1185.7 742 1171.3 743 1157 C744 1142.7 744.8 1128.3 744 1114 C743.2 1099.7 739.7 1085.3 738 1071 C736.3 1056.7 734.2 1042.2 734 1028 C733.8 1013.8 735.3 996.5 737 986 C738.7 975.5 744.3 971.3 744 965 C743.7 958.7 738.3 954.2 735 948 C731.7 941.8 726.5 936 724 928 C721.5 920 720.8 913 720 900 C719.2 887 718.7 866.7 719 850 C719.3 833.3 720.7 812.5 722 800 C723.3 787.5 725.3 783.3 727 775 C728.7 766.7 730.7 758.3 732 750 C733.3 741.7 734.3 733.3 735 725 C735.7 716.7 736.5 712.5 736 700 C735.5 687.5 733.8 666.7 732 650 C730.2 633.3 727.2 615 725 600 C722.8 585 720.7 572.5 719 560 C717.3 547.5 715.7 539.2 715 525 C714.3 510.8 714.2 487.5 715 475 C715.8 462.5 717.5 458.3 720 450 C722.5 441.7 726.7 433 730 425 C733.3 417 737.5 409.5 740 402 C742.5 394.5 744.7 388.7 745 380 C745.3 371.3 744 361.2 742 350 C740 338.8 735.8 321.8 733 313 C730.2 304.2 728.5 300.8 725 297 C721.5 293.2 716.2 290.8 712 290 C707.8 289.2 704 289.2 700 292 C696 294.8 691.3 299.5 688 307 C684.7 314.5 682.7 325.7 680 337 C677.3 348.3 675.3 362 672 375 C668.7 388 664.5 404.2 660 415 C655.5 425.8 650.8 433.3 645 440 C639.2 446.7 631.7 452 625 455 C618.3 458 611.3 458.5 605 458 C598.7 457.5 593.3 455.5 587 452 C580.7 448.5 573.2 443.7 567 437 C560.8 430.3 554.5 420.3 550 412 C545.5 403.7 543.2 397.3 540 387 C536.8 376.7 533.5 360.3 531 350 C528.5 339.7 526.8 331.5 525 325 C523.2 318.5 522.2 314.5 520 311 C517.8 307.5 514.5 304.7 512 304 C509.5 303.3 507.3 304.3 505 307 C502.7 309.7 499.8 312.5 498 320 C496.2 327.5 495.7 341.2 494 352 C492.3 362.8 490.3 374.5 488 385 C485.7 395.5 483 405 480 415 C477 425 473.7 437 470 445 C466.3 453 462.5 457.5 458 463 C453.5 468.5 448 474.5 443 478 C438 481.5 433 483.2 428 484 C423 484.8 419.3 485 413 483 C406.7 481 396.8 476.8 390 472 C383.2 467.2 377.5 460.5 372 454 C366.5 447.5 362 439.5 357 433 C352 426.5 347 419.3 342 415 C337 410.7 332 408.2 327 407 C322 405.8 316.5 406.8 312 408 C307.5 409.2 304.2 412 300 414 C295.8 416 293.8 418 287 420 C280.2 422 268.5 425 259 426 C249.5 427 239.7 427.5 230 426 C220.3 424.5 209.3 421.2 201 417 C192.7 412.8 185.3 407.2 180 401 C174.7 394.8 171.3 384.5 169 380 C166.7 375.5 166.5 375 166 374" fill="none" stroke="#1c1c1c" stroke-width="3" stroke-linejoin="round"/>
<path d="M128 316 L170 314 L172 375 L128 373 Z" fill="#a7b2bb" stroke="none"/>
<path d="M130 316 L164 315 M130 373 L167 375" stroke="#1c1c1c" stroke-width="3" fill="none"/>
<path d="M86 316 Q100 322 121 329 M84 335 Q100 339 119 340 M93 363 Q105 358 118 354" stroke="#666" stroke-width="2.2" fill="none"/>
<path d="M140 330 Q175 329 207 326 L205 336 Q175 338 140 339 Z" fill="#9aa6ae" stroke="#333" stroke-width="2"/>
<path d="M140 345 Q170 346 195 348 L195 356 Q170 355 140 354 Z" fill="#9aa6ae" stroke="#333" stroke-width="2"/>
<ellipse cx="132" cy="345" rx="11" ry="26" fill="#2e2e30" stroke="#111" stroke-width="2.5"/>
<path d="M124 329 H140" stroke="#5a5a5c" stroke-width="1.6"/>
<path d="M124 336 H140" stroke="#5a5a5c" stroke-width="1.6"/>
<path d="M124 343 H140" stroke="#5a5a5c" stroke-width="1.6"/>
<path d="M124 350 H140" stroke="#5a5a5c" stroke-width="1.6"/>
<path d="M124 357 H140" stroke="#5a5a5c" stroke-width="1.6"/>
<path d="M124 364 H140" stroke="#5a5a5c" stroke-width="1.6"/>
<circle cx="240" cy="300" r="34" fill="#3b3f45"/>
<circle cx="262" cy="300" r="24" fill="#3b3f45"/>
<circle cx="214" cy="318" r="24" fill="#3b3f45"/>
<circle cx="255" cy="335" r="30" fill="#3b3f45"/>
<circle cx="222" cy="350" r="28" fill="#3b3f45"/>
<circle cx="246" cy="372" r="26" fill="#3b3f45"/>
<circle cx="270" cy="360" r="18" fill="#3b3f45"/>
<circle cx="205" cy="340" r="16" fill="#3b3f45"/>
<circle cx="268" cy="285" r="16" fill="#3b3f45"/>
<circle cx="232" cy="280" r="18" fill="#3b3f45"/>
<circle cx="280" cy="320" r="14" fill="#3b3f45"/>
<circle cx="214" cy="378" r="14" fill="#3b3f45"/>
<ellipse cx="198" cy="318" rx="10" ry="12" fill="#8f9aa2" stroke="#2b2e33" stroke-width="2.2"/>
<ellipse cx="194" cy="346" rx="9" ry="11" fill="#8f9aa2" stroke="#2b2e33" stroke-width="2.2"/>
<ellipse cx="200" cy="374" rx="10" ry="8" fill="#8f9aa2" stroke="#2b2e33" stroke-width="2.2"/>
<ellipse cx="218" cy="389" rx="11" ry="9" fill="#8f9aa2" stroke="#2b2e33" stroke-width="2.2"/>
<ellipse cx="246" cy="393" rx="15" ry="10" fill="#8f9aa2" stroke="#2b2e33" stroke-width="2.2"/>
<ellipse cx="273" cy="380" rx="10" ry="9" fill="#8f9aa2" stroke="#2b2e33" stroke-width="2.2"/>
<ellipse cx="282" cy="355" rx="8" ry="11" fill="#8f9aa2" stroke="#2b2e33" stroke-width="2.2"/>
<ellipse cx="283" cy="326" rx="7" ry="10" fill="#5d646b" stroke="#2b2e33" stroke-width="2"/>
<ellipse cx="276" cy="297" rx="8" ry="10" fill="#5d646b" stroke="#2b2e33" stroke-width="2"/>
<ellipse cx="262" cy="276" rx="10" ry="8" fill="#5d646b" stroke="#2b2e33" stroke-width="2"/>
<ellipse cx="238" cy="272" rx="11" ry="7" fill="#5d646b" stroke="#2b2e33" stroke-width="2"/>
<ellipse cx="214" cy="290" rx="10" ry="8" fill="#5d646b" stroke="#2b2e33" stroke-width="2"/>
<ellipse cx="237" cy="300" rx="6" ry="9" fill="#8f9aa2" stroke="#2b2e33" stroke-width="2.2"/>
<ellipse cx="262" cy="318" rx="5" ry="6" fill="#8f9aa2" stroke="#2b2e33" stroke-width="2.2"/>
<ellipse cx="228" cy="336" rx="5" ry="5" fill="#5d646b" stroke="#2b2e33" stroke-width="2"/>
<ellipse cx="256" cy="352" rx="5" ry="5" fill="#5d646b" stroke="#2b2e33" stroke-width="2"/>
<ellipse cx="210" cy="362" rx="5" ry="5" fill="#5d646b" stroke="#2b2e33" stroke-width="2"/>
<ellipse cx="236" cy="362" rx="6" ry="5" fill="#5d646b" stroke="#2b2e33" stroke-width="2"/>
<ellipse cx="270" cy="340" rx="5" ry="6" fill="#5d646b" stroke="#2b2e33" stroke-width="2"/>
<ellipse cx="250" cy="320" rx="4" ry="4" fill="#5d646b" stroke="#2b2e33" stroke-width="2"/>
<path d="M398 380 C399.3 382.2 401 388.2 406 393 C411 397.8 424.3 406.3 428 409" fill="none" stroke="#1c1c1c" stroke-width="2.5" stroke-linecap="round"/>
<path d="M522 290 C520.3 291.3 515 294.3 512 298 C509 301.7 505.3 309.7 504 312" fill="none" stroke="#1c1c1c" stroke-width="2.5" stroke-linecap="round"/>
<path d="M613 371 C610.8 373.2 604.8 380.2 600 384 C595.2 387.8 586.7 392.3 584 394" fill="none" stroke="#1c1c1c" stroke-width="2.5" stroke-linecap="round"/>
<path d="M677 274 C680.8 274.7 693.2 275.5 700 278 C706.8 280.5 715 287.2 718 289" fill="none" stroke="#1c1c1c" stroke-width="2.5" stroke-linecap="round"/>
<path d="M741 350 C741.5 355.8 743.3 373 744 385 C744.7 397 744.8 415.8 745 422" fill="none" stroke="#1c1c1c" stroke-width="2.5" stroke-linecap="round"/>
<path d="M760 711 C757.7 715 750.7 726.8 746 735 C741.3 743.2 734.3 755.8 732 760" fill="none" stroke="#1c1c1c" stroke-width="2.5" stroke-linecap="round"/>
<path d="M1185 476 C1184 478.7 1180.8 486.5 1179 492 C1177.2 497.5 1174.8 506.2 1174 509" fill="none" stroke="#1c1c1c" stroke-width="2.5" stroke-linecap="round"/>
<path d="M1199 931 C1200.5 935.8 1205.2 949.7 1208 960 C1210.8 970.3 1214.7 987.5 1216 993" fill="none" stroke="#1c1c1c" stroke-width="2.5" stroke-linecap="round"/>
<path d="M1291 291 C1289.5 292.3 1285.8 297 1282 299 C1278.2 301 1270.3 302.3 1268 303" fill="none" stroke="#1c1c1c" stroke-width="2.5" stroke-linecap="round"/>
<path d="M1360 430 C1361 431.2 1363.7 434.8 1366 437 C1368.3 439.2 1372.7 442 1374 443" fill="none" stroke="#1c1c1c" stroke-width="2.5" stroke-linecap="round"/>
<path d="M1594 364 C1595.5 366 1599.7 372.5 1603 376 C1606.3 379.5 1612.2 383.5 1614 385" fill="none" stroke="#1c1c1c" stroke-width="2.5" stroke-linecap="round"/>
<path d="M1735 312 C1735.3 316.7 1736.7 330.8 1737 340 C1737.3 349.2 1737 362.5 1737 367" fill="none" stroke="#1c1c1c" stroke-width="2.5" stroke-linecap="round"/>
<path d="M1798 312 C1798.2 315 1798.8 323.7 1799 330 C1799.2 336.3 1799 346.7 1799 350" fill="none" stroke="#1c1c1c" stroke-width="2.5" stroke-linecap="round"/>
<path d="M1819 274 C1821.5 271.5 1828.8 263.5 1834 259 C1839.2 254.5 1847.3 249 1850 247" fill="none" stroke="#1c1c1c" stroke-width="2.5" stroke-linecap="round"/>
<path d="M1790 500 C1788.7 504.7 1785 518.7 1782 528 C1779 537.3 1773.7 551.3 1772 556" fill="none" stroke="#1c1c1c" stroke-width="2.5" stroke-linecap="round"/>
<path d="M774 1126.4 H850.5" stroke="#86858a" stroke-width="4.2" fill="none"/>
<path d="M774 1126.4 H782" stroke="#2a2a2c" stroke-width="4.2" fill="none"/>
<path d="M1186 998 H1269" stroke="#86858a" stroke-width="4.2" fill="none"/>
<path d="M1186 998 H1219" stroke="#2a2a2c" stroke-width="4.2" fill="none"/>
<path d="M1180 1337.5 H1269" stroke="#86858a" stroke-width="4.2" fill="none"/>
<path d="M1180 1337.5 H1196" stroke="#2a2a2c" stroke-width="4.2" fill="none"/>
<path d="M246 143 L275 168 L462 307" fill="none" stroke="#333" stroke-width="2"/>
<path d="M229 412 L177 557" fill="none" stroke="#333" stroke-width="2"/>
<path d="M880 344 L786 547" fill="none" stroke="#333" stroke-width="2"/>
<path d="M1699 103 L1675 291" fill="none" stroke="#333" stroke-width="2"/>
<path d="M1765 602 L1897 566" fill="none" stroke="#333" stroke-width="2"/>
<path d="M1789 1222 L1899 1194" fill="none" stroke="#333" stroke-width="2"/>
<path d="M514 250 L514.8 246.5 L515.7 242 L516.7 236.7 L517.7 230.8 L518.6 224.4 L519.3 217.7 L519.9 210.8 L520.3 204.1 L520.5 197.5 L520.5 191.4 L520.4 185.3 L520.4 178.8 L520.3 172 L520.3 165.2 L520.2 158.5 L520.2 152.1 L520.1 146.2 L520.1 140.9 L520 136.4 L520 132.9 L534 132.5 L511 91 L490 133.5 L504 133.1 L504 136.5 L504.1 141 L504.1 146.3 L504.2 152.3 L504.2 158.7 L504.3 165.4 L504.3 172.2 L504.4 178.9 L504.4 185.5 L504.5 191.6 L504.6 197.7 L504.9 204.2 L505.4 211 L506.1 217.8 L507 224.5 L508 230.9 L509.1 236.8 L510.2 242.1 L511.2 246.5 L512 250 Z" fill="#a6a5a9" stroke="#1c1c1c" stroke-width="2.5" stroke-linejoin="miter"/>
<path d="M717 250 L717.7 246.5 L718.6 241.9 L719.6 236.6 L720.5 230.6 L721.3 224.1 L722 217.3 L722.6 210.4 L722.9 203.6 L723 197 L723 190.9 L722.9 184.7 L722.8 178.1 L722.7 171.3 L722.6 164.4 L722.4 157.7 L722.3 151.2 L722.2 145.2 L722.1 139.9 L722.1 135.4 L722 131.9 L736 131.5 L713 90 L692 132.5 L706 132.1 L706.1 135.6 L706.1 140.2 L706.2 145.5 L706.3 151.5 L706.4 157.9 L706.6 164.7 L706.7 171.6 L706.8 178.4 L706.9 185 L707 191.1 L707.2 197.3 L707.5 203.9 L708.1 210.7 L708.9 217.5 L709.8 224.3 L710.8 230.7 L712 236.7 L713.1 242 L714.1 246.5 L715 250 Z" fill="#a6a5a9" stroke="#1c1c1c" stroke-width="2.5" stroke-linejoin="miter"/>
<path d="M1249.5 210 L1249.5 207.8 L1249.5 205 L1249.5 201.7 L1249.5 198 L1249.5 194 L1249.5 189.9 L1249.5 185.6 L1249.5 181.4 L1249.5 177.3 L1249.5 173.5 L1249.5 169.7 L1249.5 165.6 L1249.5 161.4 L1249.5 157.1 L1249.5 153 L1249.5 149 L1249.5 145.3 L1249.5 142 L1249.5 139.2 L1249.5 137 L1263 137 L1241 96 L1219 137 L1232.5 137 L1232.5 139.2 L1232.5 142 L1232.5 145.3 L1232.5 149 L1232.5 153 L1232.5 157.1 L1232.5 161.4 L1232.5 165.6 L1232.5 169.7 L1232.5 173.5 L1232.5 177.3 L1232.5 181.4 L1232.5 185.6 L1232.5 189.9 L1232.5 194 L1232.5 198 L1232.5 201.7 L1232.5 205 L1232.5 207.8 L1232.5 210 Z" fill="#a6a5a9" stroke="#1c1c1c" stroke-width="2.5" stroke-linejoin="miter"/>
<path d="M1498 279 L1498.8 275.5 L1499.7 271.1 L1500.7 265.8 L1501.7 259.9 L1502.6 253.6 L1503.3 246.9 L1503.9 240.2 L1504.3 233.5 L1504.5 227 L1504.5 220.9 L1504.4 214.9 L1504.4 208.4 L1504.3 201.7 L1504.3 194.9 L1504.2 188.3 L1504.2 182 L1504.1 176.1 L1504.1 170.8 L1504 166.4 L1504 162.9 L1518 163 L1496 121 L1474 163 L1488 163.1 L1488 166.5 L1488.1 171 L1488.1 176.2 L1488.2 182.1 L1488.2 188.4 L1488.3 195.1 L1488.3 201.8 L1488.4 208.5 L1488.4 215 L1488.5 221.1 L1488.6 227.1 L1488.9 233.6 L1489.4 240.3 L1490.1 247 L1491 253.7 L1492 260 L1493.1 265.9 L1494.2 271.1 L1495.2 275.6 L1496 279 Z" fill="#a6a5a9" stroke="#1c1c1c" stroke-width="2.5" stroke-linejoin="miter"/>
<path d="M1145 462.5 L1142.4 461.8 L1139.1 460.9 L1135.1 460 L1130.7 459.1 L1125.9 458.3 L1120.9 457.5 L1115.8 456.9 L1110.8 456.5 L1106 456.2 L1101.4 456.1 L1096.9 456.1 L1092 456.1 L1087 456.2 L1081.9 456.2 L1076.9 456.3 L1072.2 456.3 L1067.8 456.4 L1063.8 456.4 L1060.5 456.5 L1057.9 456.5 L1058 443 L1021 464 L1058 485 L1058.1 471.5 L1060.7 471.5 L1064 471.4 L1067.9 471.4 L1072.4 471.3 L1077.1 471.3 L1082.1 471.2 L1087.2 471.2 L1092.2 471.1 L1097 471.1 L1101.6 470.9 L1106.1 470.7 L1111 470.3 L1116 469.8 L1121.1 469 L1126 468.2 L1130.8 467.2 L1135.2 466.2 L1139.1 465.2 L1142.4 464.3 L1145 463.5 Z" fill="#a6a5a9" stroke="#1c1c1c" stroke-width="2.5" stroke-linejoin="miter"/>
<path d="M1145 542.5 L1142.4 541.8 L1139.1 540.9 L1135.1 539.9 L1130.7 538.9 L1126 538 L1121 537.2 L1115.9 536.6 L1110.9 536.1 L1106 535.7 L1101.5 535.6 L1097 535.5 L1092.1 535.5 L1087.1 535.5 L1082 535.5 L1077 535.5 L1072.3 535.5 L1067.9 535.5 L1063.9 535.5 L1060.6 535.5 L1058 535.5 L1058 522 L1021 543 L1058 564 L1058 550.5 L1060.6 550.5 L1063.9 550.5 L1067.9 550.5 L1072.3 550.5 L1077 550.5 L1082 550.5 L1087.1 550.5 L1092.1 550.5 L1097 550.5 L1101.5 550.4 L1106 550.3 L1110.9 549.9 L1115.9 549.4 L1121 548.8 L1126 548 L1130.7 547.1 L1135.1 546.1 L1139.1 545.1 L1142.4 544.2 L1145 543.5 Z" fill="#a6a5a9" stroke="#1c1c1c" stroke-width="2.5" stroke-linejoin="miter"/>
<path d="M1171 622.5 L1168.5 621.8 L1165.2 620.9 L1161.3 620 L1157 619.1 L1152.3 618.3 L1147.5 617.5 L1142.5 616.9 L1137.6 616.5 L1132.9 616.2 L1128.4 616.1 L1124 616.1 L1119.2 616.1 L1114.3 616.2 L1109.4 616.2 L1104.5 616.3 L1099.9 616.3 L1095.5 616.4 L1091.7 616.4 L1088.4 616.5 L1085.9 616.5 L1086 603 L1046 624 L1086 645 L1086.1 631.5 L1088.6 631.5 L1091.9 631.4 L1095.7 631.4 L1100 631.3 L1104.7 631.3 L1109.5 631.2 L1114.5 631.2 L1119.4 631.1 L1124.1 631.1 L1128.6 630.9 L1133 630.7 L1137.8 630.3 L1142.7 629.8 L1147.6 629 L1152.5 628.2 L1157.1 627.2 L1161.4 626.2 L1165.2 625.2 L1168.5 624.3 L1171 623.5 Z" fill="#a6a5a9" stroke="#1c1c1c" stroke-width="2.5" stroke-linejoin="miter"/>
<path d="M1912 415.5 L1909.4 414.7 L1906.1 413.8 L1902.2 412.8 L1897.8 411.9 L1893.1 410.9 L1888.2 410.1 L1883.2 409.5 L1878.2 409 L1873.4 408.7 L1868.9 408.6 L1864.4 408.6 L1859.6 408.6 L1854.7 408.7 L1849.6 408.7 L1844.7 408.8 L1840 408.8 L1835.6 408.9 L1831.8 408.9 L1828.5 409 L1825.9 409 L1826 396 L1785 417 L1826 438 L1826.1 425 L1828.7 425 L1831.9 424.9 L1835.8 424.9 L1840.2 424.8 L1844.9 424.8 L1849.8 424.7 L1854.8 424.7 L1859.8 424.6 L1864.6 424.6 L1869.1 424.4 L1873.6 424.2 L1878.4 423.8 L1883.3 423.2 L1888.3 422.4 L1893.2 421.5 L1897.9 420.5 L1902.3 419.4 L1906.2 418.3 L1909.5 417.3 L1912 416.5 Z" fill="#a6a5a9" stroke="#1c1c1c" stroke-width="2.5" stroke-linejoin="miter"/>
<path d="M1915 481.5 L1912.4 480.8 L1909 479.9 L1905 479 L1900.5 478 L1895.6 477.2 L1890.6 476.4 L1885.4 475.8 L1880.3 475.4 L1875.4 475.2 L1870.8 475.1 L1866.2 475.1 L1861.3 475.2 L1856.2 475.3 L1851.1 475.5 L1846.1 475.6 L1841.3 475.7 L1836.8 475.8 L1832.8 475.9 L1829.4 475.9 L1826.8 476 L1827 463 L1790 484 L1827 505 L1827.2 492 L1829.8 491.9 L1833.2 491.9 L1837.1 491.8 L1841.6 491.7 L1846.4 491.6 L1851.5 491.4 L1856.6 491.3 L1861.7 491.2 L1866.6 491.1 L1871.2 490.9 L1875.8 490.6 L1880.7 490.2 L1885.7 489.5 L1890.9 488.7 L1895.9 487.7 L1900.7 486.6 L1905.1 485.5 L1909.1 484.4 L1912.4 483.3 L1915 482.5 Z" fill="#a6a5a9" stroke="#1c1c1c" stroke-width="2.5" stroke-linejoin="miter"/>
<path d="M1908 854.5 L1905.3 853.8 L1901.9 853 L1897.9 852.1 L1893.4 851.2 L1888.6 850.4 L1883.5 849.7 L1878.4 849.2 L1873.3 848.8 L1868.3 848.6 L1863.7 848.6 L1859.1 848.7 L1854.2 848.8 L1849.1 849 L1844 849.2 L1839 849.3 L1834.2 849.5 L1829.7 849.7 L1825.7 849.8 L1822.3 849.9 L1819.7 850 L1820 837 L1781 858 L1820 879 L1820.3 866 L1822.9 865.9 L1826.3 865.8 L1830.2 865.7 L1834.7 865.5 L1839.5 865.3 L1844.6 865.2 L1849.7 865 L1854.8 864.8 L1859.7 864.7 L1864.3 864.4 L1868.9 864.1 L1873.8 863.6 L1878.8 862.8 L1883.9 862 L1888.9 860.9 L1893.7 859.8 L1898.1 858.6 L1902.1 857.4 L1905.4 856.4 L1908 855.5 Z" fill="#a6a5a9" stroke="#1c1c1c" stroke-width="2.5" stroke-linejoin="miter"/>
<path d="M1910 923.5 L1907.4 922.8 L1904.1 921.9 L1900.2 921 L1895.8 920 L1891.1 919.2 L1886.1 918.4 L1881.1 917.8 L1876.1 917.4 L1871.3 917.2 L1866.8 917.1 L1862.3 917.1 L1857.5 917.2 L1852.6 917.3 L1847.6 917.5 L1842.6 917.6 L1837.9 917.7 L1833.6 917.8 L1829.7 917.9 L1826.4 917.9 L1823.8 918 L1824 905 L1785 926 L1824 947 L1824.2 934 L1826.7 933.9 L1830 933.9 L1833.9 933.8 L1838.3 933.7 L1843 933.6 L1847.9 933.4 L1852.9 933.3 L1857.9 933.2 L1862.7 933.1 L1867.2 932.9 L1871.7 932.6 L1876.5 932.2 L1881.4 931.5 L1886.4 930.7 L1891.3 929.7 L1896 928.6 L1900.3 927.5 L1904.2 926.4 L1907.5 925.3 L1910 924.5 Z" fill="#a6a5a9" stroke="#1c1c1c" stroke-width="2.5" stroke-linejoin="miter"/>
<path d="M1757 687.5 L1759.6 688.4 L1763 689.5 L1767 690.6 L1771.5 691.7 L1776.3 692.7 L1781.4 693.6 L1786.5 694.3 L1791.6 694.7 L1796.5 695 L1801.1 695 L1805.7 694.9 L1810.6 694.9 L1815.7 694.8 L1820.8 694.8 L1825.8 694.7 L1830.7 694.7 L1835.1 694.6 L1839.1 694.6 L1842.5 694.5 L1845.1 694.5 L1845.5 707 L1885 685 L1844.5 665 L1844.9 677.5 L1842.3 677.5 L1838.9 677.6 L1834.9 677.6 L1830.5 677.7 L1825.7 677.7 L1820.6 677.8 L1815.5 677.8 L1810.4 677.9 L1805.5 677.9 L1800.9 678 L1796.3 678.1 L1791.4 678.5 L1786.3 679 L1781.2 679.8 L1776.2 680.8 L1771.4 681.9 L1766.9 683.2 L1763 684.4 L1759.6 685.5 L1757 686.5 Z" fill="#a6a5a9" stroke="#1c1c1c" stroke-width="2.5" stroke-linejoin="miter"/>
<path d="M1753 1081.5 L1750.4 1080.7 L1747.1 1079.8 L1743.2 1078.8 L1738.8 1077.8 L1734.1 1076.8 L1729.1 1076 L1724.1 1075.4 L1719.1 1074.9 L1714.3 1074.7 L1709.8 1074.6 L1705.3 1074.6 L1700.5 1074.7 L1695.5 1074.8 L1690.5 1075 L1685.6 1075.1 L1680.9 1075.2 L1676.5 1075.3 L1672.7 1075.4 L1669.4 1075.4 L1666.8 1075.5 L1667 1061 L1627 1084 L1667 1107 L1667.2 1092.5 L1669.8 1092.4 L1673 1092.4 L1676.9 1092.3 L1681.3 1092.2 L1686 1092.1 L1690.9 1091.9 L1695.9 1091.8 L1700.9 1091.7 L1705.7 1091.6 L1710.2 1091.4 L1714.7 1091.1 L1719.5 1090.6 L1724.4 1089.9 L1729.4 1089.1 L1734.3 1088 L1739 1086.9 L1743.3 1085.7 L1747.2 1084.5 L1750.5 1083.4 L1753 1082.5 Z" fill="#a6a5a9" stroke="#1c1c1c" stroke-width="2.5" stroke-linejoin="miter"/>
<path d="M773 1311.5 L775.6 1312.2 L778.9 1313.1 L782.9 1314 L787.3 1314.9 L792.1 1315.7 L797.1 1316.5 L802.2 1317.1 L807.2 1317.5 L812 1317.8 L816.6 1317.9 L821.1 1317.9 L826 1317.9 L831 1317.8 L836.1 1317.8 L841.1 1317.7 L845.8 1317.7 L850.2 1317.6 L854.2 1317.6 L857.5 1317.5 L860.1 1317.5 L860 1332 L898 1310 L860 1288 L859.9 1302.5 L857.3 1302.5 L854 1302.6 L850.1 1302.6 L845.6 1302.7 L840.9 1302.7 L835.9 1302.8 L830.8 1302.8 L825.8 1302.9 L821 1302.9 L816.4 1303.1 L811.9 1303.3 L807 1303.7 L802 1304.2 L796.9 1305 L792 1305.8 L787.2 1306.8 L782.8 1307.8 L778.9 1308.8 L775.6 1309.7 L773 1310.5 Z" fill="#a6a5a9" stroke="#1c1c1c" stroke-width="2.5" stroke-linejoin="miter"/>
<path d="M1175 549.9 L1175.8 551.5 L1176.7 553.6 L1177.9 556.2 L1179.2 559.2 L1180.7 562.5 L1182.4 565.8 L1184.4 569.3 L1186.6 572.6 L1189.1 575.9 L1191.9 578.8 L1194.5 581.2 L1197.2 583.5 L1200 585.8 L1203 588 L1206.3 590.1 L1209.9 592.1 L1213.9 594 L1218.2 595.7 L1223 597.3 L1228.3 598.7 L1234.2 600 L1240.6 601 L1247.6 602 L1254.9 602.8 L1262.4 603.5 L1270.2 604.1 L1277.9 604.6 L1285.6 604.9 L1293 605 L1300.2 605 L1307.4 604.7 L1314.9 604.1 L1322.6 603.3 L1330.2 602.4 L1337.6 601.3 L1344.6 600.2 L1351 599.1 L1356.7 598.2 L1361.4 597.4 L1365.1 596.9 L1367.1 606.2 L1397 583 L1360.9 571.8 L1362.9 581.1 L1359 581.6 L1354.1 582.4 L1348.4 583.4 L1342 584.4 L1335.2 585.5 L1328 586.5 L1320.7 587.4 L1313.5 588.2 L1306.5 588.7 L1299.8 589 L1293.2 589 L1286 588.9 L1278.7 588.6 L1271.2 588.2 L1263.8 587.6 L1256.5 586.9 L1249.5 586.1 L1243 585.2 L1237 584.3 L1231.7 583.3 L1227.1 582.3 L1223.1 581.1 L1219.4 580 L1216.2 578.7 L1213.2 577.4 L1210.5 576 L1207.8 574.4 L1205.2 572.8 L1202.7 571 L1200.1 569.2 L1197.8 567.4 L1195.6 565.3 L1193.3 562.8 L1191.1 560.2 L1189.1 557.4 L1187.1 554.7 L1185.3 552.1 L1183.6 549.7 L1182.2 547.7 L1181 546.1 Z" fill="#a6a5a9" stroke="#1c1c1c" stroke-width="2.5" stroke-linejoin="miter"/>
<path d="M1239.4 657 L1241.8 657.1 L1244.8 657.3 L1248.5 657.6 L1252.7 657.9 L1257.3 658.2 L1262.4 658.5 L1267.8 658.7 L1273.5 658.8 L1279.5 658.8 L1285.6 658.5 L1291.9 658 L1298.7 657.2 L1305.8 656.3 L1313.2 655.3 L1320.8 654.2 L1328.5 653 L1336.2 651.8 L1343.7 650.7 L1351.1 649.5 L1358.3 648.4 L1365.6 647.3 L1373.3 646.1 L1381.2 644.8 L1389.1 643.5 L1396.9 642.3 L1404.3 641 L1411.1 639.9 L1417.2 638.9 L1422.4 638 L1426.4 637.4 L1428.7 646.1 L1457 622 L1421.3 611.9 L1423.6 620.6 L1419.6 621.3 L1414.4 622.1 L1408.3 623.1 L1401.5 624.3 L1394.1 625.5 L1386.4 626.8 L1378.5 628 L1370.6 629.3 L1363 630.5 L1355.7 631.6 L1348.5 632.7 L1341.1 633.9 L1333.5 635.1 L1325.9 636.2 L1318.3 637.4 L1310.9 638.5 L1303.6 639.5 L1296.8 640.3 L1290.3 641 L1284.4 641.5 L1279 641.8 L1273.6 641.8 L1268.4 641.7 L1263.4 641.4 L1258.7 641 L1254.3 640.6 L1250.2 640.1 L1246.5 639.6 L1243.3 639.3 L1240.6 639 Z" fill="#a6a5a9" stroke="#1c1c1c" stroke-width="2.5" stroke-linejoin="miter"/>
<path d="M1173.1 647.9 L1173.9 649.6 L1175 651.9 L1176.2 654.7 L1177.7 657.8 L1179.3 661.2 L1181.2 664.7 L1183.2 668.2 L1185.4 671.7 L1187.9 674.9 L1190.5 677.9 L1193.1 680.5 L1195.7 682.8 L1198.5 685.1 L1201.4 687.3 L1204.5 689.3 L1207.7 691.2 L1211.1 693 L1214.7 694.7 L1218.4 696.4 L1222.3 697.9 L1226.2 699.3 L1230.2 700.7 L1234.5 702 L1238.9 703.2 L1243.6 704.4 L1248.5 705.4 L1253.7 706.2 L1259.1 706.9 L1264.9 707.3 L1271 707.5 L1277.7 707.4 L1285 706.9 L1292.9 706.2 L1301 705.3 L1309.1 704.2 L1317.1 703.1 L1324.7 702.1 L1331.8 701 L1338 700.1 L1343.1 699.4 L1347.5 698.8 L1351.2 698.3 L1354.4 697.8 L1357 697.3 L1359.2 696.8 L1361 696.4 L1362.6 696 L1363.8 695.7 L1364.7 695.5 L1365.7 695.3 L1367.2 704.2 L1396 681 L1360.8 669.8 L1362.3 678.7 L1361.1 678.9 L1359.8 679.2 L1358.6 679.5 L1357.2 679.8 L1355.7 680.2 L1353.8 680.6 L1351.4 681 L1348.6 681.5 L1345.1 682 L1340.9 682.6 L1335.6 683.3 L1329.3 684.2 L1322.3 685.2 L1314.8 686.3 L1306.9 687.4 L1298.9 688.4 L1291.1 689.3 L1283.7 689.9 L1276.9 690.4 L1271 690.5 L1265.8 690.3 L1260.8 690 L1256.1 689.4 L1251.6 688.6 L1247.3 687.8 L1243.2 686.8 L1239.2 685.7 L1235.3 684.5 L1231.5 683.3 L1227.7 682.1 L1224.2 681 L1220.9 679.8 L1217.8 678.6 L1214.9 677.3 L1212.1 676 L1209.4 674.6 L1206.9 673.1 L1204.3 671.5 L1201.9 669.8 L1199.5 668.1 L1197.3 666.2 L1195 664 L1192.6 661.4 L1190.2 658.6 L1187.9 655.7 L1185.7 652.9 L1183.7 650.2 L1181.9 647.8 L1180.2 645.7 L1178.9 644.1 Z" fill="#a6a5a9" stroke="#1c1c1c" stroke-width="2.5" stroke-linejoin="miter"/>
<path d="M1183.7 605 L1183.9 605.5 L1184.2 606.1 L1184.7 606.8 L1185.2 607.4 L1185.9 608.2 L1186.5 608.9 L1187.2 609.7 L1187.9 610.6 L1188.6 611.4 L1189.3 612.2 L1190 613.1 L1190.9 614.2 L1191.8 615.3 L1192.7 616.4 L1193.6 617.6 L1194.5 618.8 L1195.4 619.8 L1196.1 620.8 L1196.8 621.6 L1197.3 622.2 L1197.3 622.2 L1205 626 L1202.7 617.8 L1202.7 617.8 L1202.3 617.2 L1201.6 616.4 L1200.9 615.5 L1200 614.4 L1199.1 613.3 L1198.2 612.1 L1197.2 610.9 L1196.3 609.8 L1195.5 608.7 L1194.7 607.8 L1194 606.9 L1193.2 606 L1192.5 605.2 L1191.8 604.4 L1191.1 603.6 L1190.5 602.9 L1189.9 602.2 L1189.3 601.7 L1188.8 601.3 L1188.3 601 Z" fill="#a6a5a9" stroke="#1c1c1c" stroke-width="2.5" stroke-linejoin="miter"/>
<path d="M1189.5 748.3 L1188.1 750 L1186.5 752.1 L1184.5 754.6 L1182.4 757.4 L1180.1 760.3 L1177.7 763.3 L1175.2 766.2 L1172.7 769 L1170.2 771.4 L1167.8 773.5 L1165.2 775.4 L1162.5 777.3 L1159.6 779.2 L1156.7 781 L1153.6 782.7 L1150.5 784.4 L1147.3 785.9 L1144.1 787.4 L1140.8 788.7 L1137.4 790 L1134.1 791.1 L1130.6 792.1 L1127.1 793.1 L1123.5 793.9 L1119.8 794.6 L1116 795.2 L1112.2 795.7 L1108.2 796.1 L1104.1 796.3 L1099.9 796.5 L1095.5 796.5 L1090.7 796.3 L1085.6 795.9 L1080.3 795.5 L1075 794.9 L1069.7 794.2 L1064.6 793.5 L1059.7 792.8 L1055.2 792.2 L1051.1 791.6 L1047.6 791 L1044.3 790.4 L1041.2 789.8 L1038.4 789.1 L1035.8 788.4 L1033.4 787.8 L1031.2 787.2 L1029.2 786.6 L1027.4 786.1 L1025.8 785.7 L1028.4 777.1 L995 785 L1019.6 808.9 L1022.2 800.3 L1023.5 800.6 L1025.1 801.1 L1027.1 801.6 L1029.4 802.3 L1032 802.9 L1034.9 803.7 L1038 804.4 L1041.4 805.1 L1045 805.8 L1048.9 806.4 L1053 807 L1057.6 807.7 L1062.5 808.4 L1067.8 809.1 L1073.3 809.8 L1078.8 810.4 L1084.4 810.9 L1089.8 811.3 L1095.1 811.5 L1100.1 811.5 L1104.8 811.3 L1109.4 811 L1113.8 810.6 L1118.2 810.1 L1122.4 809.4 L1126.6 808.6 L1130.7 807.6 L1134.7 806.6 L1138.7 805.4 L1142.6 804 L1146.4 802.5 L1150.2 800.8 L1153.8 799 L1157.4 797 L1160.9 794.9 L1164.2 792.6 L1167.4 790.3 L1170.5 787.8 L1173.4 785.2 L1176.2 782.5 L1178.9 779.5 L1181.5 776.1 L1183.8 772.5 L1185.9 768.9 L1187.9 765.3 L1189.6 761.9 L1191.2 758.6 L1192.5 755.8 L1193.6 753.5 L1194.5 751.7 Z" fill="#a6a5a9" stroke="#1c1c1c" stroke-width="2.5" stroke-linejoin="miter"/>
<path d="M1142.6 851 L1140 851 L1136.7 851 L1133 850.9 L1128.7 850.8 L1124.1 850.7 L1119.2 850.5 L1114.2 850.3 L1109 849.9 L1103.9 849.5 L1098.8 849 L1093.6 848.5 L1088.2 847.9 L1082.6 847.3 L1076.8 846.7 L1071 846 L1065 845.3 L1059 844.5 L1053 843.7 L1047 842.9 L1041.1 842.1 L1035.1 841.2 L1028.8 840.2 L1022.2 839.1 L1015.6 838 L1009.1 836.9 L1002.7 835.8 L996.6 834.8 L991 833.8 L985.8 832.9 L981.4 832.1 L977.5 831.5 L974.2 830.9 L971.3 830.4 L968.9 829.9 L966.7 829.5 L964.9 829.2 L963.3 828.9 L961.9 828.6 L960.6 828.3 L959.5 828.1 L960.5 819.7 L925 831 L955.5 852.3 L956.5 843.9 L957.7 844.1 L958.9 844.3 L960.3 844.6 L961.9 844.9 L963.8 845.2 L966 845.6 L968.5 846.1 L971.4 846.6 L974.8 847.2 L978.6 847.9 L983.1 848.7 L988.2 849.5 L993.9 850.5 L1000 851.6 L1006.4 852.7 L1013 853.8 L1019.7 854.9 L1026.3 856 L1032.7 857 L1038.9 857.9 L1044.8 858.8 L1050.9 859.6 L1057 860.4 L1063 861.1 L1069 861.9 L1075 862.6 L1080.8 863.2 L1086.5 863.9 L1092 864.4 L1097.2 865 L1102.5 865.4 L1107.8 865.9 L1113 866.3 L1118.2 866.8 L1123.1 867.2 L1127.8 867.6 L1132 868 L1135.7 868.4 L1138.9 868.7 L1141.4 869 Z" fill="#a6a5a9" stroke="#1c1c1c" stroke-width="2.5" stroke-linejoin="miter"/>
<path d="M1199.6 852.3 L1198.3 853.7 L1196.7 855.6 L1195 857.8 L1193 860.2 L1190.9 862.8 L1188.7 865.5 L1186.2 868.1 L1183.6 870.8 L1180.9 873.3 L1178 875.7 L1174.8 878.2 L1171.2 880.9 L1167.4 883.7 L1163.4 886.6 L1159.2 889.4 L1155 892.2 L1150.8 894.8 L1146.7 897.2 L1142.7 899.4 L1139 901.1 L1135.2 902.6 L1131.4 903.9 L1127.6 905.1 L1123.7 906 L1119.7 906.7 L1115.8 907.3 L1111.8 907.8 L1107.8 908.1 L1103.8 908.4 L1099.9 908.5 L1096.1 908.5 L1092.4 908.3 L1088.7 908 L1085 907.5 L1081.3 906.9 L1077.5 906.2 L1073.7 905.4 L1069.7 904.6 L1065.8 903.6 L1061.8 902.7 L1057.6 901.7 L1053.1 900.4 L1048.4 899 L1043.6 897.5 L1038.8 896 L1034.2 894.5 L1030 893.1 L1026.1 891.8 L1022.8 890.7 L1020.3 889.9 L1022.2 881 L984 888 L1013.8 913 L1015.7 904.1 L1018.2 904.9 L1021.4 906 L1025.2 907.3 L1029.5 908.7 L1034.2 910.3 L1039.1 911.8 L1044 913.4 L1049 914.8 L1053.8 916.2 L1058.2 917.3 L1062.4 918.3 L1066.4 919.2 L1070.5 920.1 L1074.6 920.9 L1078.7 921.7 L1082.9 922.4 L1087.1 922.9 L1091.4 923.3 L1095.8 923.5 L1100.1 923.5 L1104.5 923.3 L1108.8 923.1 L1113.3 922.7 L1117.7 922.2 L1122.3 921.5 L1126.8 920.6 L1131.4 919.6 L1135.9 918.3 L1140.5 916.7 L1145 914.9 L1149.6 912.6 L1154.2 910.1 L1158.7 907.2 L1163.2 904.1 L1167.5 900.8 L1171.7 897.4 L1175.7 894 L1179.4 890.7 L1182.8 887.4 L1186 884.3 L1188.9 881.1 L1191.6 877.7 L1194 874.3 L1196.1 871 L1198.1 867.7 L1199.8 864.7 L1201.2 861.9 L1202.5 859.4 L1203.5 857.3 L1204.4 855.7 Z" fill="#a6a5a9" stroke="#1c1c1c" stroke-width="2.5" stroke-linejoin="miter"/>
<path d="M1189.3 816.7 L1188.9 817.1 L1188.4 817.6 L1188 818.2 L1187.6 819 L1187.2 819.8 L1186.8 820.7 L1186.3 821.6 L1185.9 822.5 L1185.4 823.4 L1184.9 824.3 L1184.4 825.2 L1183.8 826.3 L1183.2 827.4 L1182.5 828.5 L1181.8 829.7 L1181.1 830.8 L1180.4 831.8 L1179.9 832.8 L1179.4 833.6 L1179 834.2 L1179.1 834.1 L1178 842 L1184.9 837.9 L1185 837.8 L1185.4 837.2 L1185.8 836.4 L1186.4 835.5 L1187.1 834.4 L1187.7 833.3 L1188.5 832.1 L1189.2 831 L1189.8 829.8 L1190.5 828.7 L1191.1 827.7 L1191.6 826.7 L1192.1 825.8 L1192.6 824.8 L1193.1 823.8 L1193.5 822.9 L1193.9 822 L1194.3 821.3 L1194.6 820.5 L1194.7 819.9 L1194.7 819.3 Z" fill="#a6a5a9" stroke="#1c1c1c" stroke-width="2.5" stroke-linejoin="miter"/>
<circle cx="1242" cy="247" r="43" fill="#3f5762" stroke="#111" stroke-width="3"/>
<circle cx="1237" cy="640" r="43" fill="#3f5762" stroke="#111" stroke-width="3"/>
<circle cx="1142" cy="850" r="43" fill="#3f5762" stroke="#111" stroke-width="3"/>
<circle cx="447" cy="140" r="29.5" fill="#a7b3bd" stroke="#333" stroke-width="3.5"/>
<text x="447" y="154.5" text-anchor="middle" font-size="34" font-weight="bold" fill="#222">1</text>
<circle cx="547" cy="495" r="29.5" fill="#a7b3bd" stroke="#333" stroke-width="3.5"/>
<text x="547" y="509.5" text-anchor="middle" font-size="34" font-weight="bold" fill="#222">2</text>
<circle cx="670" cy="516" r="29.5" fill="#a7b3bd" stroke="#333" stroke-width="3.5"/>
<text x="670" y="530.5" text-anchor="middle" font-size="34" font-weight="bold" fill="#222">3</text>
<circle cx="665" cy="676" r="29.5" fill="#a7b3bd" stroke="#333" stroke-width="3.5"/>
<text x="665" y="690.5" text-anchor="middle" font-size="34" font-weight="bold" fill="#222">4</text>
<circle cx="1174" cy="146" r="29.5" fill="#a7b3bd" stroke="#333" stroke-width="3.5"/>
<text x="1174" y="160.5" text-anchor="middle" font-size="34" font-weight="bold" fill="#222">4</text>
<circle cx="1300" cy="533" r="29.5" fill="#a7b3bd" stroke="#333" stroke-width="3.5"/>
<text x="1300" y="547.5" text-anchor="middle" font-size="34" font-weight="bold" fill="#222">3</text>
<circle cx="1057" cy="972" r="29.5" fill="#a7b3bd" stroke="#333" stroke-width="3.5"/>
<text x="1057" y="986.5" text-anchor="middle" font-size="34" font-weight="bold" fill="#222">3</text>
<circle cx="1659" cy="678" r="29.5" fill="#a7b3bd" stroke="#333" stroke-width="3.5"/>
<text x="1659" y="692.5" text-anchor="middle" font-size="34" font-weight="bold" fill="#222">5</text>
<circle cx="1689" cy="1155" r="29.5" fill="#a7b3bd" stroke="#333" stroke-width="3.5"/>
<text x="1689" y="1169.5" text-anchor="middle" font-size="34" font-weight="bold" fill="#222">6</text>
<circle cx="1691" cy="1233" r="29.5" fill="#a7b3bd" stroke="#333" stroke-width="3.5"/>
<text x="1691" y="1247.5" text-anchor="middle" font-size="34" font-weight="bold" fill="#222">2</text>
<circle cx="694" cy="1304" r="29.5" fill="#a7b3bd" stroke="#333" stroke-width="3.5"/>
<text x="694" y="1318.5" text-anchor="middle" font-size="34" font-weight="bold" fill="#222">2</text>
<circle cx="80" cy="991" r="29.5" fill="#a7b3bd" stroke="#333" stroke-width="3.5"/>
<text x="80" y="1005.5" text-anchor="middle" font-size="34" font-weight="bold" fill="#222">1</text>
<circle cx="80" cy="1068" r="29.5" fill="#a7b3bd" stroke="#333" stroke-width="3.5"/>
<text x="80" y="1082.5" text-anchor="middle" font-size="34" font-weight="bold" fill="#222">2</text>
<circle cx="80" cy="1146" r="29.5" fill="#a7b3bd" stroke="#333" stroke-width="3.5"/>
<text x="80" y="1160.5" text-anchor="middle" font-size="34" font-weight="bold" fill="#222">3</text>
<circle cx="80" cy="1223" r="29.5" fill="#a7b3bd" stroke="#333" stroke-width="3.5"/>
<text x="80" y="1237.5" text-anchor="middle" font-size="34" font-weight="bold" fill="#222">4</text>
<circle cx="80" cy="1301" r="29.5" fill="#a7b3bd" stroke="#333" stroke-width="3.5"/>
<text x="80" y="1315.5" text-anchor="middle" font-size="34" font-weight="bold" fill="#222">5</text>
<circle cx="80" cy="1378" r="29.5" fill="#a7b3bd" stroke="#333" stroke-width="3.5"/>
<text x="80" y="1392.5" text-anchor="middle" font-size="34" font-weight="bold" fill="#222">6</text>
<text x="622" y="534" text-anchor="middle" font-size="36" fill="#444">?</text>
<text x="617" y="694" text-anchor="middle" font-size="36" fill="#444">?</text>
<text x="187" y="84.5" text-anchor="middle" font-size="33.3">Tube contourné</text>
<text x="186" y="122.5" text-anchor="middle" font-size="33.3">proximal</text>
<text x="94" y="598" text-anchor="start" font-size="33.3">Glomérule</text>
<text x="308" y="706" text-anchor="start" font-size="33.3">Cortex</text>
<text x="307" y="786" text-anchor="start" font-size="33.3">Médullaire externe</text>
<text x="303" y="1531" text-anchor="start" font-size="33.3">Médullaire interne</text>
<text x="248" y="937" text-anchor="start" font-size="33.3" font-weight="bold">Diurétiques</text>
<text x="154" y="999" text-anchor="start" font-size="33.3">Acétazolamide</text>
<text x="154" y="1075" text-anchor="start" font-size="33.3">Diurétiques osmotiques (mannitol)</text>
<text x="154" y="1153" text-anchor="start" font-size="33.3">Diurétiques de l&#39;anse (ex. furosémide)</text>
<text x="154" y="1231" text-anchor="start" font-size="33.3">Thiazides</text>
<text x="154" y="1308" text-anchor="start" font-size="33.3">Antagonistes de l&#39;aldostérone</text>
<text x="154" y="1383" text-anchor="start" font-size="33.3">Antagonistes de la vasopressine (ADH)</text>
<text x="677" y="72" text-anchor="start" font-size="33.3">NaCl</text>
<text x="850" y="245" text-anchor="start" font-size="33.3">Branche</text>
<text x="850" y="282" text-anchor="start" font-size="33.3">descendante</text>
<text x="850" y="320" text-anchor="start" font-size="33.3">large</text>
<text x="878" y="1138" text-anchor="start" font-size="33.3">Branche</text>
<text x="878" y="1176" text-anchor="start" font-size="33.3">descendante</text>
<text x="878" y="1214" text-anchor="start" font-size="33.3">fine</text>
<text x="978" y="1455" text-anchor="middle" font-size="33.3">Anse de</text>
<text x="978" y="1494" text-anchor="middle" font-size="33.3">Henle</text>
<text x="1199" y="84" text-anchor="start" font-size="33.3">NaCl</text>
<text x="1495" y="109" text-anchor="middle" font-size="33.3">(+PTH)</text>
<text x="1769" y="85" text-anchor="middle" font-size="33.3">Tube contourné</text>
<text x="1760" y="124" text-anchor="middle" font-size="33.3">distal</text>
<text x="1920" y="575" text-anchor="start" font-size="33.3">Tube</text>
<text x="1917" y="613" text-anchor="start" font-size="33.3">collecteur</text>
<text x="1902" y="703" text-anchor="start" font-size="33.3">NaCl</text>
<text x="1939" y="741" text-anchor="middle" font-size="33.3">(+aldostérone)</text>
<text x="1568" y="1139" text-anchor="middle" font-size="33.3">(+ADH)</text>
<text x="1919" y="1198" text-anchor="start" font-size="33.3">Tube</text>
<text x="1917" y="1237" text-anchor="start" font-size="33.3">collecteur</text>
<text x="1291" y="969" text-anchor="start" font-size="33.3">Branche</text>
<text x="1291" y="1008" text-anchor="start" font-size="33.3">ascendante</text>
<text x="1291" y="1044" text-anchor="start" font-size="33.3">large</text>
<text x="1291" y="1308" text-anchor="start" font-size="33.3">Branche</text>
<text x="1291" y="1346" text-anchor="start" font-size="33.3">ascendante</text>
<text x="1291" y="1383" text-anchor="start" font-size="33.3">fine</text>
<text x="447" y="70" font-size="33.3"><tspan>NaHCO</tspan><tspan font-size="20" dy="8">3</tspan><tspan dy="-8"></tspan></text>
<text x="1461" y="71" font-size="33.3"><tspan>Ca</tspan><tspan font-size="20" dy="-14">2+</tspan><tspan dy="14"></tspan></text>
<text x="963" y="478" font-size="33.3"><tspan>K</tspan><tspan font-size="20" dy="-14">+</tspan><tspan dy="14"></tspan></text>
<text x="927" y="554" font-size="33.3"><tspan>Ca</tspan><tspan font-size="20" dy="-14">2+</tspan><tspan dy="14"></tspan></text>
<text x="951" y="634" font-size="33.3"><tspan>Mg</tspan><tspan font-size="20" dy="-14">2+</tspan><tspan dy="14"></tspan></text>
<text x="1414" y="578" font-size="33.3"><tspan>Na</tspan><tspan font-size="20" dy="-14">+</tspan><tspan dy="14"></tspan></text>
<text x="1477" y="632" font-size="33.3"><tspan>K</tspan><tspan font-size="20" dy="-14">+</tspan><tspan dy="14"></tspan></text>
<text x="1411" y="702" font-size="33.3"><tspan>2Cl</tspan><tspan font-size="20" dy="-14">−</tspan><tspan dy="14"></tspan></text>
<text x="932" y="789" font-size="33.3"><tspan>Na</tspan><tspan font-size="20" dy="-14">+</tspan><tspan dy="14"></tspan></text>
<text x="880" y="837" font-size="33.3"><tspan>K</tspan><tspan font-size="20" dy="-14">+</tspan><tspan dy="14"></tspan></text>
<text x="904" y="914" font-size="33.3"><tspan>2Cl</tspan><tspan font-size="20" dy="-14">−</tspan><tspan dy="14"></tspan></text>
<text x="1932" y="427" font-size="33.3"><tspan>K</tspan><tspan font-size="20" dy="-14">+</tspan><tspan dy="14"></tspan></text>
<text x="1930" y="496" font-size="33.3"><tspan>H</tspan><tspan font-size="20" dy="-14">+</tspan><tspan dy="14"></tspan></text>
<text x="1927" y="868" font-size="33.3"><tspan>K</tspan><tspan font-size="20" dy="-14">+</tspan><tspan dy="14"></tspan></text>
<text x="1927" y="936" font-size="33.3"><tspan>H</tspan><tspan font-size="20" dy="-14">+</tspan><tspan dy="14"></tspan></text>
<text x="915" y="1328" font-size="33.3"><tspan>H</tspan><tspan font-size="20" dy="8">2</tspan><tspan dy="-8"></tspan><tspan>O</tspan></text>
<text x="1536" y="1098" font-size="33.3"><tspan>H</tspan><tspan font-size="20" dy="8">2</tspan><tspan dy="-8"></tspan><tspan>O</tspan></text>
</svg>
</body></html>
